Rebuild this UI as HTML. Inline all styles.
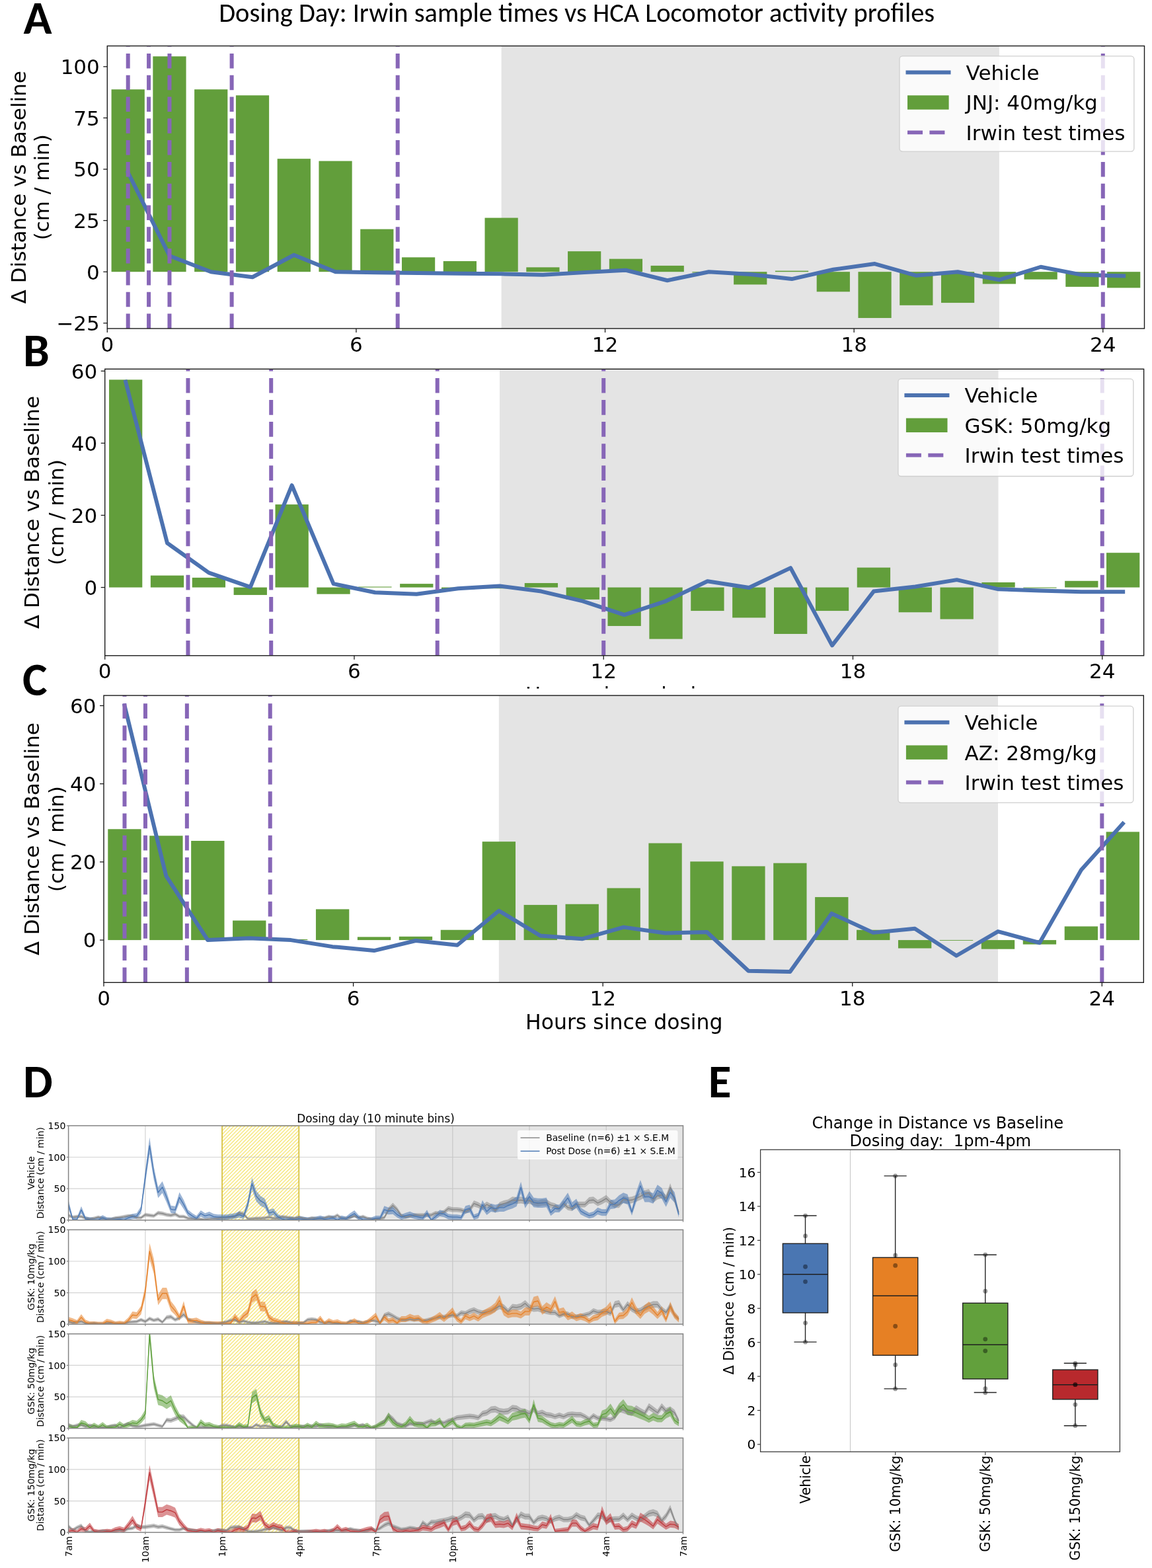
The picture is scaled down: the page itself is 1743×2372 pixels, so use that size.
<!DOCTYPE html><html><head><meta charset="utf-8"><style>
html,body{margin:0;padding:0;background:#fff;overflow:hidden;}svg{display:block;}
.t31{font-family:'DejaVu Sans', 'Liberation Sans', sans-serif;font-size:31px;fill:#000;}
.cal{font-family:Carlito, 'Liberation Sans', sans-serif;fill:#000;}
.t14{font-family:'DejaVu Sans', 'Liberation Sans', sans-serif;font-size:14.1px;fill:#000;}
.t14l{font-family:'DejaVu Sans', 'Liberation Sans', sans-serif;font-size:13.8px;fill:#000;}
.t17{font-family:'DejaVu Sans', 'Liberation Sans', sans-serif;font-size:16.8px;fill:#000;}
.t20{font-family:'DejaVu Sans', 'Liberation Sans', sans-serif;font-size:20.6px;fill:#000;}
.t24{font-family:'DejaVu Sans', 'Liberation Sans', sans-serif;font-size:24.2px;fill:#000;}
</style></head><body>
<svg width="1743" height="2372" viewBox="0 0 1743 2372">
<rect width="1743" height="2372" fill="#fff"/>
<text x="944" y="1062" class="t31" text-anchor="middle" style="font-size:31.5px">Hours since dosing</text>
<rect x="0" y="1041.6" width="1743" height="40" fill="#fff"/>
<clipPath id="ca"><rect x="162.3" y="69.5" width="1569.2" height="427.5"/></clipPath>
<g clip-path="url(#ca)">
<rect x="758.62" y="69.5" width="753.24" height="427.5" fill="#e4e4e4"/>
<rect x="168.58" y="135.25" width="50.22" height="275.95" fill="#629e3b"/>
<rect x="231.35" y="85.28" width="50.22" height="325.92" fill="#629e3b"/>
<rect x="294.12" y="135.25" width="50.22" height="275.95" fill="#629e3b"/>
<rect x="356.89" y="144.26" width="50.22" height="266.94" fill="#629e3b"/>
<rect x="419.66" y="240.17" width="50.22" height="171.03" fill="#629e3b"/>
<rect x="482.43" y="243.58" width="50.22" height="167.62" fill="#629e3b"/>
<rect x="545.2" y="346.64" width="50.22" height="64.56" fill="#629e3b"/>
<rect x="607.97" y="389.29" width="50.22" height="21.91" fill="#629e3b"/>
<rect x="670.74" y="395.06" width="50.22" height="16.14" fill="#629e3b"/>
<rect x="733.51" y="329.56" width="50.22" height="81.64" fill="#629e3b"/>
<rect x="796.28" y="404.37" width="50.22" height="6.83" fill="#629e3b"/>
<rect x="859.05" y="380.16" width="50.22" height="31.04" fill="#629e3b"/>
<rect x="921.82" y="391.64" width="50.22" height="19.56" fill="#629e3b"/>
<rect x="984.59" y="401.89" width="50.22" height="9.31" fill="#629e3b"/>
<rect x="1047.36" y="411.2" width="50.22" height="1.24" fill="#629e3b"/>
<rect x="1110.13" y="411.2" width="50.22" height="19.24" fill="#629e3b"/>
<rect x="1172.9" y="409.65" width="50.22" height="1.55" fill="#629e3b"/>
<rect x="1235.67" y="411.2" width="50.22" height="30.11" fill="#629e3b"/>
<rect x="1298.44" y="411.2" width="50.22" height="69.84" fill="#629e3b"/>
<rect x="1361.21" y="411.2" width="50.22" height="50.6" fill="#629e3b"/>
<rect x="1423.98" y="411.2" width="50.22" height="46.87" fill="#629e3b"/>
<rect x="1486.75" y="411.2" width="50.22" height="18.31" fill="#629e3b"/>
<rect x="1549.52" y="411.2" width="50.22" height="11.48" fill="#629e3b"/>
<rect x="1612.29" y="411.2" width="50.22" height="22.66" fill="#629e3b"/>
<rect x="1675.06" y="411.2" width="50.22" height="24.21" fill="#629e3b"/>
<polyline points="193.69,260.97 256.46,386.99 319.23,411.2 382,419.27 444.77,385.75 507.54,411.2 570.31,412.13 633.08,413.06 695.85,413.68 758.62,414.3 821.38,415.86 884.15,412.13 946.92,408.72 1009.7,424.24 1072.47,411.2 1135.24,414.92 1198.01,422.06 1260.78,407.79 1323.55,399.09 1386.32,416.79 1449.09,411.2 1511.86,423.31 1574.62,403.75 1637.39,415.86 1700.16,417.41" fill="none" stroke="#4c72b0" stroke-width="6" stroke-linejoin="round" stroke-linecap="square"/>
<line x1="193.69" y1="497" x2="193.69" y2="69.5" stroke="#8766b7" stroke-width="6" stroke-dasharray="22.5 10.3"/>
<line x1="225.07" y1="497" x2="225.07" y2="69.5" stroke="#8766b7" stroke-width="6" stroke-dasharray="22.5 10.3"/>
<line x1="256.46" y1="497" x2="256.46" y2="69.5" stroke="#8766b7" stroke-width="6" stroke-dasharray="22.5 10.3"/>
<line x1="350.61" y1="497" x2="350.61" y2="69.5" stroke="#8766b7" stroke-width="6" stroke-dasharray="22.5 10.3"/>
<line x1="601.69" y1="497" x2="601.69" y2="69.5" stroke="#8766b7" stroke-width="6" stroke-dasharray="22.5 10.3"/>
<line x1="1668.78" y1="497" x2="1668.78" y2="69.5" stroke="#8766b7" stroke-width="6" stroke-dasharray="22.5 10.3"/>
</g>
<rect x="1361" y="84.9" width="354.8" height="144.2" rx="4.5" fill="#fff" fill-opacity="0.8" stroke="#cfcfcf" stroke-width="1.3"/>
<line x1="1370.5" y1="109.6" x2="1438.5" y2="109.6" stroke="#4c72b0" stroke-width="6"/>
<rect x="1373" y="144.3" width="62.6" height="21.4" fill="#629e3b"/>
<line x1="1373" y1="200.3" x2="1429.4" y2="200.3" stroke="#8766b7" stroke-width="5.8" stroke-dasharray="23 10.4"/>
<text x="1461.6" y="120.9" class="t31">Vehicle</text>
<text x="1461.6" y="166.3" class="t31">JNJ: 40mg/kg</text>
<text x="1461.6" y="211.6" class="t31">Irwin test times</text>
<rect x="162.3" y="69.5" width="1569.2" height="427.5" fill="none" stroke="#1a1a1a" stroke-width="1.4"/>
<line x1="156.3" y1="488.8" x2="162.3" y2="488.8" stroke="#1a1a1a" stroke-width="1.3"/>
<text x="150.8" y="500.1" class="t31" text-anchor="end">−25</text>
<line x1="156.3" y1="411.2" x2="162.3" y2="411.2" stroke="#1a1a1a" stroke-width="1.3"/>
<text x="150.8" y="422.5" class="t31" text-anchor="end">0</text>
<line x1="156.3" y1="333.6" x2="162.3" y2="333.6" stroke="#1a1a1a" stroke-width="1.3"/>
<text x="150.8" y="344.9" class="t31" text-anchor="end">25</text>
<line x1="156.3" y1="256" x2="162.3" y2="256" stroke="#1a1a1a" stroke-width="1.3"/>
<text x="150.8" y="267.3" class="t31" text-anchor="end">50</text>
<line x1="156.3" y1="178.4" x2="162.3" y2="178.4" stroke="#1a1a1a" stroke-width="1.3"/>
<text x="150.8" y="189.7" class="t31" text-anchor="end">75</text>
<line x1="156.3" y1="100.8" x2="162.3" y2="100.8" stroke="#1a1a1a" stroke-width="1.3"/>
<text x="150.8" y="112.1" class="t31" text-anchor="end">100</text>
<line x1="162.3" y1="497" x2="162.3" y2="503" stroke="#1a1a1a" stroke-width="1.3"/>
<text x="162.3" y="531.5" class="t31" text-anchor="middle">0</text>
<line x1="538.92" y1="497" x2="538.92" y2="503" stroke="#1a1a1a" stroke-width="1.3"/>
<text x="538.92" y="531.5" class="t31" text-anchor="middle">6</text>
<line x1="915.54" y1="497" x2="915.54" y2="503" stroke="#1a1a1a" stroke-width="1.3"/>
<text x="915.54" y="531.5" class="t31" text-anchor="middle">12</text>
<line x1="1292.16" y1="497" x2="1292.16" y2="503" stroke="#1a1a1a" stroke-width="1.3"/>
<text x="1292.16" y="531.5" class="t31" text-anchor="middle">18</text>
<line x1="1668.78" y1="497" x2="1668.78" y2="503" stroke="#1a1a1a" stroke-width="1.3"/>
<text x="1668.78" y="531.5" class="t31" text-anchor="middle">24</text>
<text transform="translate(39.2,283.25) rotate(-90)" class="t31" text-anchor="middle">Δ Distance vs Baseline</text>
<text transform="translate(73.5,283.25) rotate(-90)" class="t31" text-anchor="middle">(cm / min)</text>
<clipPath id="cb"><rect x="158.7" y="558.3" width="1571.9" height="433.5"/></clipPath>
<g clip-path="url(#cb)">
<rect x="756.02" y="558.3" width="754.51" height="433.5" fill="#e4e4e4"/>
<rect x="164.99" y="574.39" width="50.3" height="314.21" fill="#629e3b"/>
<rect x="227.86" y="870.6" width="50.3" height="18" fill="#629e3b"/>
<rect x="290.74" y="873.87" width="50.3" height="14.73" fill="#629e3b"/>
<rect x="353.62" y="888.6" width="50.3" height="11.46" fill="#629e3b"/>
<rect x="416.49" y="763.13" width="50.3" height="125.47" fill="#629e3b"/>
<rect x="479.37" y="888.6" width="50.3" height="10.09" fill="#629e3b"/>
<rect x="542.24" y="887.51" width="50.3" height="1.09" fill="#629e3b"/>
<rect x="605.12" y="883.14" width="50.3" height="5.46" fill="#629e3b"/>
<rect x="668" y="888.6" width="50.3" height="2.73" fill="#629e3b"/>
<rect x="730.87" y="888.6" width="50.3" height="1.64" fill="#629e3b"/>
<rect x="793.75" y="882.05" width="50.3" height="6.55" fill="#629e3b"/>
<rect x="856.62" y="888.6" width="50.3" height="18.27" fill="#629e3b"/>
<rect x="919.5" y="888.6" width="50.3" height="58.37" fill="#629e3b"/>
<rect x="982.38" y="888.6" width="50.3" height="78.01" fill="#629e3b"/>
<rect x="1045.25" y="888.6" width="50.3" height="35.46" fill="#629e3b"/>
<rect x="1108.13" y="888.6" width="50.3" height="45.82" fill="#629e3b"/>
<rect x="1171" y="888.6" width="50.3" height="70.37" fill="#629e3b"/>
<rect x="1233.88" y="888.6" width="50.3" height="35.46" fill="#629e3b"/>
<rect x="1296.76" y="858.6" width="50.3" height="30" fill="#629e3b"/>
<rect x="1359.63" y="888.6" width="50.3" height="37.64" fill="#629e3b"/>
<rect x="1422.51" y="888.6" width="50.3" height="48" fill="#629e3b"/>
<rect x="1485.38" y="880.96" width="50.3" height="7.64" fill="#629e3b"/>
<rect x="1548.26" y="888.6" width="50.3" height="1.09" fill="#629e3b"/>
<rect x="1611.14" y="878.78" width="50.3" height="9.82" fill="#629e3b"/>
<rect x="1674.01" y="836.23" width="50.3" height="52.37" fill="#629e3b"/>
<polyline points="190.14,577.66 253.01,821.5 315.89,866.4 378.77,888.05 441.64,734.22 504.52,883.14 567.39,896.24 630.27,898.69 693.15,890.24 756.02,886.58 818.9,894.6 881.77,909.33 944.65,930.06 1007.53,909.33 1070.4,879.33 1133.28,888.98 1196.15,859.14 1259.03,976.43 1321.91,894.6 1384.78,887.51 1447.66,877.14 1510.53,891.33 1573.41,893.51 1636.29,895.15 1699.16,895.15" fill="none" stroke="#4c72b0" stroke-width="6" stroke-linejoin="round" stroke-linecap="square"/>
<line x1="284.45" y1="991.8" x2="284.45" y2="558.3" stroke="#8766b7" stroke-width="6" stroke-dasharray="22.7 10.4"/>
<line x1="410.2" y1="991.8" x2="410.2" y2="558.3" stroke="#8766b7" stroke-width="6" stroke-dasharray="22.7 10.4"/>
<line x1="661.71" y1="991.8" x2="661.71" y2="558.3" stroke="#8766b7" stroke-width="6" stroke-dasharray="22.7 10.4"/>
<line x1="913.21" y1="991.8" x2="913.21" y2="558.3" stroke="#8766b7" stroke-width="6" stroke-dasharray="22.7 10.4"/>
<line x1="1667.72" y1="991.8" x2="1667.72" y2="558.3" stroke="#8766b7" stroke-width="6" stroke-dasharray="22.7 10.4"/>
</g>
<rect x="1358.9" y="573.2" width="355.9" height="147.3" rx="4.5" fill="#fff" fill-opacity="0.8" stroke="#cfcfcf" stroke-width="1.3"/>
<line x1="1368.4" y1="597.9" x2="1436.4" y2="597.9" stroke="#4c72b0" stroke-width="6"/>
<rect x="1370.9" y="632.6" width="62.6" height="21.4" fill="#629e3b"/>
<line x1="1370.9" y1="688.6" x2="1427.3" y2="688.6" stroke="#8766b7" stroke-width="5.8" stroke-dasharray="23 10.4"/>
<text x="1459.5" y="609.2" class="t31">Vehicle</text>
<text x="1459.5" y="654.6" class="t31">GSK: 50mg/kg</text>
<text x="1459.5" y="699.9" class="t31">Irwin test times</text>
<rect x="158.7" y="558.3" width="1571.9" height="433.5" fill="none" stroke="#1a1a1a" stroke-width="1.4"/>
<line x1="152.7" y1="888.6" x2="158.7" y2="888.6" stroke="#1a1a1a" stroke-width="1.3"/>
<text x="147.2" y="899.9" class="t31" text-anchor="end">0</text>
<line x1="152.7" y1="779.5" x2="158.7" y2="779.5" stroke="#1a1a1a" stroke-width="1.3"/>
<text x="147.2" y="790.8" class="t31" text-anchor="end">20</text>
<line x1="152.7" y1="670.4" x2="158.7" y2="670.4" stroke="#1a1a1a" stroke-width="1.3"/>
<text x="147.2" y="681.7" class="t31" text-anchor="end">40</text>
<line x1="152.7" y1="561.3" x2="158.7" y2="561.3" stroke="#1a1a1a" stroke-width="1.3"/>
<text x="147.2" y="572.6" class="t31" text-anchor="end">60</text>
<line x1="158.7" y1="991.8" x2="158.7" y2="997.8" stroke="#1a1a1a" stroke-width="1.3"/>
<text x="158.7" y="1026.3" class="t31" text-anchor="middle">0</text>
<line x1="535.96" y1="991.8" x2="535.96" y2="997.8" stroke="#1a1a1a" stroke-width="1.3"/>
<text x="535.96" y="1026.3" class="t31" text-anchor="middle">6</text>
<line x1="913.21" y1="991.8" x2="913.21" y2="997.8" stroke="#1a1a1a" stroke-width="1.3"/>
<text x="913.21" y="1026.3" class="t31" text-anchor="middle">12</text>
<line x1="1290.47" y1="991.8" x2="1290.47" y2="997.8" stroke="#1a1a1a" stroke-width="1.3"/>
<text x="1290.47" y="1026.3" class="t31" text-anchor="middle">18</text>
<line x1="1667.72" y1="991.8" x2="1667.72" y2="997.8" stroke="#1a1a1a" stroke-width="1.3"/>
<text x="1667.72" y="1026.3" class="t31" text-anchor="middle">24</text>
<text transform="translate(59.4,775.05) rotate(-90)" class="t31" text-anchor="middle">Δ Distance vs Baseline</text>
<text transform="translate(95.7,775.05) rotate(-90)" class="t31" text-anchor="middle">(cm / min)</text>
<clipPath id="cc"><rect x="157" y="1052.1" width="1573.3" height="434.2"/></clipPath>
<g clip-path="url(#cc)">
<rect x="754.84" y="1052.1" width="755.16" height="434.2" fill="#e4e4e4"/>
<rect x="163.29" y="1254.26" width="50.34" height="167.84" fill="#629e3b"/>
<rect x="226.22" y="1264.3" width="50.34" height="157.8" fill="#629e3b"/>
<rect x="289.15" y="1271.99" width="50.34" height="150.11" fill="#629e3b"/>
<rect x="352.08" y="1392.55" width="50.34" height="29.55" fill="#629e3b"/>
<rect x="415.01" y="1420.92" width="50.34" height="1.18" fill="#629e3b"/>
<rect x="477.94" y="1375.41" width="50.34" height="46.69" fill="#629e3b"/>
<rect x="540.87" y="1417.37" width="50.34" height="4.73" fill="#629e3b"/>
<rect x="603.8" y="1416.78" width="50.34" height="5.32" fill="#629e3b"/>
<rect x="666.73" y="1406.73" width="50.34" height="15.37" fill="#629e3b"/>
<rect x="729.66" y="1273.17" width="50.34" height="148.93" fill="#629e3b"/>
<rect x="792.59" y="1368.91" width="50.34" height="53.19" fill="#629e3b"/>
<rect x="855.52" y="1367.73" width="50.34" height="54.37" fill="#629e3b"/>
<rect x="918.45" y="1343.5" width="50.34" height="78.6" fill="#629e3b"/>
<rect x="981.38" y="1275.53" width="50.34" height="146.57" fill="#629e3b"/>
<rect x="1044.31" y="1303.31" width="50.34" height="118.79" fill="#629e3b"/>
<rect x="1107.24" y="1310.4" width="50.34" height="111.7" fill="#629e3b"/>
<rect x="1170.17" y="1305.67" width="50.34" height="116.43" fill="#629e3b"/>
<rect x="1233.1" y="1357.09" width="50.34" height="65.01" fill="#629e3b"/>
<rect x="1296.03" y="1406.73" width="50.34" height="15.37" fill="#629e3b"/>
<rect x="1358.96" y="1422.1" width="50.34" height="12.41" fill="#629e3b"/>
<rect x="1421.89" y="1422.1" width="50.34" height="0.89" fill="#629e3b"/>
<rect x="1484.82" y="1422.1" width="50.34" height="13.59" fill="#629e3b"/>
<rect x="1547.75" y="1422.1" width="50.34" height="6.5" fill="#629e3b"/>
<rect x="1610.68" y="1401.41" width="50.34" height="20.68" fill="#629e3b"/>
<rect x="1673.61" y="1258.39" width="50.34" height="163.71" fill="#629e3b"/>
<polyline points="188.47,1067.5 251.39,1325.18 314.32,1422.1 377.25,1419.14 440.19,1422.1 503.12,1432.15 566.05,1438.06 628.98,1422.99 691.9,1429.78 754.84,1377.77 817.76,1415.6 880.7,1420.33 943.62,1402.6 1006.55,1411.46 1069.49,1409.98 1132.41,1468.79 1195.35,1469.97 1258.28,1381.91 1321.2,1410.87 1384.13,1404.67 1447.07,1445.74 1509.99,1409.1 1572.92,1426.24 1635.86,1316.02 1698.79,1245.98" fill="none" stroke="#4c72b0" stroke-width="6" stroke-linejoin="round" stroke-linecap="square"/>
<line x1="188.47" y1="1486.3" x2="188.47" y2="1052.1" stroke="#8766b7" stroke-width="6" stroke-dasharray="22.8 10.48"/>
<line x1="219.93" y1="1486.3" x2="219.93" y2="1052.1" stroke="#8766b7" stroke-width="6" stroke-dasharray="22.8 10.48"/>
<line x1="282.86" y1="1486.3" x2="282.86" y2="1052.1" stroke="#8766b7" stroke-width="6" stroke-dasharray="22.8 10.48"/>
<line x1="408.72" y1="1486.3" x2="408.72" y2="1052.1" stroke="#8766b7" stroke-width="6" stroke-dasharray="22.8 10.48"/>
<line x1="1667.32" y1="1486.3" x2="1667.32" y2="1052.1" stroke="#8766b7" stroke-width="6" stroke-dasharray="22.8 10.48"/>
</g>
<rect x="1358.9" y="1068.1" width="355.9" height="146.2" rx="4.5" fill="#fff" fill-opacity="0.8" stroke="#cfcfcf" stroke-width="1.3"/>
<line x1="1368.4" y1="1092.8" x2="1436.4" y2="1092.8" stroke="#4c72b0" stroke-width="6"/>
<rect x="1370.9" y="1127.5" width="62.6" height="21.4" fill="#629e3b"/>
<line x1="1370.9" y1="1183.5" x2="1427.3" y2="1183.5" stroke="#8766b7" stroke-width="5.8" stroke-dasharray="23 10.4"/>
<text x="1459.5" y="1104.1" class="t31">Vehicle</text>
<text x="1459.5" y="1149.5" class="t31">AZ: 28mg/kg</text>
<text x="1459.5" y="1194.8" class="t31">Irwin test times</text>
<rect x="157" y="1052.1" width="1573.3" height="434.2" fill="none" stroke="#1a1a1a" stroke-width="1.4"/>
<line x1="151" y1="1422.1" x2="157" y2="1422.1" stroke="#1a1a1a" stroke-width="1.3"/>
<text x="145.5" y="1433.4" class="t31" text-anchor="end">0</text>
<line x1="151" y1="1303.9" x2="157" y2="1303.9" stroke="#1a1a1a" stroke-width="1.3"/>
<text x="145.5" y="1315.2" class="t31" text-anchor="end">20</text>
<line x1="151" y1="1185.7" x2="157" y2="1185.7" stroke="#1a1a1a" stroke-width="1.3"/>
<text x="145.5" y="1197" class="t31" text-anchor="end">40</text>
<line x1="151" y1="1067.5" x2="157" y2="1067.5" stroke="#1a1a1a" stroke-width="1.3"/>
<text x="145.5" y="1078.8" class="t31" text-anchor="end">60</text>
<line x1="157" y1="1486.3" x2="157" y2="1492.3" stroke="#1a1a1a" stroke-width="1.3"/>
<text x="157" y="1520.8" class="t31" text-anchor="middle">0</text>
<line x1="534.58" y1="1486.3" x2="534.58" y2="1492.3" stroke="#1a1a1a" stroke-width="1.3"/>
<text x="534.58" y="1520.8" class="t31" text-anchor="middle">6</text>
<line x1="912.16" y1="1486.3" x2="912.16" y2="1492.3" stroke="#1a1a1a" stroke-width="1.3"/>
<text x="912.16" y="1520.8" class="t31" text-anchor="middle">12</text>
<line x1="1289.74" y1="1486.3" x2="1289.74" y2="1492.3" stroke="#1a1a1a" stroke-width="1.3"/>
<text x="1289.74" y="1520.8" class="t31" text-anchor="middle">18</text>
<line x1="1667.32" y1="1486.3" x2="1667.32" y2="1492.3" stroke="#1a1a1a" stroke-width="1.3"/>
<text x="1667.32" y="1520.8" class="t31" text-anchor="middle">24</text>
<text transform="translate(59.4,1269.2) rotate(-90)" class="t31" text-anchor="middle">Δ Distance vs Baseline</text>
<text transform="translate(95.7,1269.2) rotate(-90)" class="t31" text-anchor="middle">(cm / min)</text>
<text x="944.3" y="1557.4" class="t31" text-anchor="middle" style="font-size:31.5px">Hours since dosing</text>
<text x="331.2" y="32.7" class="cal" font-size="41px" textLength="1083" lengthAdjust="spacingAndGlyphs">Dosing Day: Irwin sample times vs HCA Locomotor activity profiles</text>
<text x="35.5" y="50.8" class="cal" font-weight="bold" font-size="71px">A</text>
<text x="35" y="554" class="cal" font-weight="bold" font-size="71px">B</text>
<text x="34" y="1051.6" class="cal" font-weight="bold" font-size="71px">C</text>
<pattern id="hatch" patternUnits="userSpaceOnUse" width="5.5" height="5.5" patternTransform="translate(336.1,0)"><path d="M-1,1 L1,-1 M0,5.5 L5.5,0 M4.5,6.5 L6.5,4.5" stroke="#f3dc45" stroke-width="1.1"/></pattern>
<clipPath id="u0"><rect x="103.6" y="1702.9" width="929.9" height="142.85"/></clipPath>
<g clip-path="url(#u0)">
<rect x="568.55" y="1702.9" width="464.95" height="142.85" fill="#e4e4e4"/>
<rect x="336.07" y="1702.9" width="116.24" height="142.85" fill="url(#hatch)"/>
<path d="M103.6,1798.13H1033.5M103.6,1750.52H1033.5M219.84,1702.9V1845.75M336.07,1702.9V1845.75M452.31,1702.9V1845.75M568.55,1702.9V1845.75M684.79,1702.9V1845.75M801.02,1702.9V1845.75M917.26,1702.9V1845.75" stroke="#b0b0b0" stroke-opacity="0.55" stroke-width="1.2" fill="none"/>
<rect x="336.07" y="1702.9" width="116.24" height="142.85" fill="none" stroke="#d9c33e" stroke-width="1.7"/>
<path d="M103.6,1835.69 L110.06,1838.63 L116.52,1837.68 L122.97,1837.68 L129.43,1840.62 L135.89,1841.66 L142.35,1840.62 L148.8,1838.63 L155.26,1840.62 L161.72,1842.08 L168.18,1841.66 L174.63,1840.09 L181.09,1839.26 L187.55,1838.1 L194.01,1836.64 L200.46,1836.64 L206.92,1839.67 L213.38,1839.67 L219.84,1834.65 L226.3,1835.69 L232.75,1836.64 L239.21,1831.71 L245.67,1832.66 L252.13,1834.65 L258.58,1835.69 L265.04,1833.7 L271.5,1837.68 L277.96,1837.68 L284.41,1840.62 L290.87,1841.25 L297.33,1841.66 L303.79,1842.08 L310.24,1842.61 L316.7,1841.66 L323.16,1841.25 L329.62,1840.62 L336.07,1839.67 L342.53,1839.26 L348.99,1838.63 L355.45,1837.68 L361.91,1831.71 L368.36,1833.28 L374.82,1841.25 L381.28,1841.25 L387.74,1840.62 L394.19,1840.62 L400.65,1840.09 L407.11,1838.63 L413.57,1840.62 L420.02,1840.62 L426.48,1837.68 L432.94,1838.63 L439.4,1840.09 L445.85,1840.62 L452.31,1838.63 L458.77,1840.62 L465.23,1841.66 L471.69,1840.09 L478.14,1840.62 L484.6,1840.62 L491.06,1840.09 L497.52,1837.68 L503.97,1839.26 L510.43,1835.69 L516.89,1840.62 L523.35,1840.62 L529.8,1839.26 L536.26,1836.64 L542.72,1839.67 L549.18,1837.68 L555.63,1840.62 L562.09,1841.66 L568.55,1841.98 L575.01,1841.14 L581.47,1839.46 L587.92,1826.16 L594.38,1819.46 L600.84,1826.16 L607.3,1836.11 L613.75,1838.63 L620.21,1836.95 L626.67,1835.27 L633.13,1835.27 L639.58,1835.27 L646.04,1835.27 L652.5,1835.27 L658.96,1831.92 L665.41,1832.76 L671.87,1830.25 L678.33,1824.48 L684.79,1826.16 L691.25,1826.16 L697.7,1826.89 L704.16,1829.41 L710.62,1826.16 L717.08,1816.1 L723.53,1818.62 L729.99,1822.81 L736.45,1817.78 L742.91,1821.13 L749.36,1827.73 L755.82,1818.62 L762.28,1816.1 L768.74,1814.43 L775.19,1810.31 L781.65,1811.12 L788.11,1810.31 L794.57,1811.93 L801.02,1810.92 L807.48,1814.32 L813.94,1816 L820.4,1814.32 L826.86,1814.32 L833.31,1818.51 L839.77,1820.19 L846.23,1824.38 L852.69,1816 L859.14,1822.7 L865.6,1824.38 L872.06,1817.68 L878.52,1817.68 L884.97,1817.68 L891.43,1810.92 L897.89,1810.21 L904.35,1815.16 L910.8,1811.82 L917.26,1807.69 L923.72,1814.32 L930.18,1818.51 L936.64,1818.51 L943.09,1809.3 L949.55,1810.92 L956.01,1810.21 L962.47,1807.69 L968.92,1804.45 L975.38,1800.42 L981.84,1798.8 L988.3,1809.3 L994.75,1803.65 L1001.21,1802.03 L1007.67,1807.69 L1014.13,1789.92 L1020.58,1809.3 L1027.04,1831.08 L1027.04,1837.56 L1020.58,1819.54 L1014.13,1802.35 L1007.67,1818.1 L1001.21,1813.09 L994.75,1814.52 L988.3,1819.54 L981.84,1810.23 L975.38,1811.66 L968.92,1815.24 L962.47,1818.1 L956.01,1820.34 L949.55,1820.97 L943.09,1819.54 L936.64,1827.27 L930.18,1827.27 L923.72,1823.85 L917.26,1818.1 L910.8,1821.77 L904.35,1824.53 L897.89,1820.34 L891.43,1820.97 L884.97,1826.59 L878.52,1826.59 L872.06,1826.59 L865.6,1832.07 L859.14,1830.7 L852.69,1825.22 L846.23,1832.07 L839.77,1828.65 L833.31,1827.27 L826.86,1823.85 L820.4,1823.85 L813.94,1825.22 L807.48,1823.85 L801.02,1820.97 L794.57,1821.86 L788.11,1820.43 L781.65,1821.15 L775.19,1820.43 L768.74,1823.93 L762.28,1825.3 L755.82,1827.36 L749.36,1834.82 L742.91,1829.42 L736.45,1826.67 L729.99,1830.79 L723.53,1827.36 L717.08,1825.3 L710.62,1833.53 L704.16,1836.19 L697.7,1834.13 L691.25,1833.53 L684.79,1833.53 L678.33,1832.16 L671.87,1836.87 L665.41,1838.93 L658.96,1838.25 L652.5,1840.99 L646.04,1840.99 L639.58,1840.99 L633.13,1840.99 L626.67,1840.99 L620.21,1842.36 L613.75,1843.73 L607.3,1841.67 L600.84,1833.53 L594.38,1828.05 L587.92,1833.53 L581.47,1844.42 L575.01,1845.75 L568.55,1845.75 L562.09,1845.75 L555.63,1845.36 L549.18,1842.96 L542.72,1844.59 L536.26,1842.1 L529.8,1844.25 L523.35,1845.36 L516.89,1845.36 L510.43,1841.33 L503.97,1844.25 L497.52,1842.96 L491.06,1844.93 L484.6,1845.36 L478.14,1845.36 L471.69,1844.93 L465.23,1845.75 L458.77,1845.36 L452.31,1843.73 L445.85,1845.36 L439.4,1844.93 L432.94,1843.73 L426.48,1842.96 L420.02,1845.36 L413.57,1845.36 L407.11,1843.73 L400.65,1844.93 L394.19,1845.36 L387.74,1845.36 L381.28,1845.75 L374.82,1845.75 L368.36,1839.36 L361.91,1838.07 L355.45,1842.96 L348.99,1843.73 L342.53,1844.25 L336.07,1844.59 L329.62,1845.36 L323.16,1845.75 L316.7,1845.75 L310.24,1845.75 L303.79,1845.75 L297.33,1845.75 L290.87,1845.75 L284.41,1845.36 L277.96,1842.96 L271.5,1842.96 L265.04,1839.7 L258.58,1841.33 L252.13,1840.47 L245.67,1838.85 L239.21,1838.07 L232.75,1842.1 L226.3,1841.33 L219.84,1840.47 L213.38,1844.59 L206.92,1844.59 L200.46,1842.1 L194.01,1842.1 L187.55,1843.3 L181.09,1844.25 L174.63,1844.93 L168.18,1845.75 L161.72,1845.75 L155.26,1845.36 L148.8,1843.73 L142.35,1845.36 L135.89,1845.75 L129.43,1845.36 L122.97,1842.96 L116.52,1842.96 L110.06,1843.73 L103.6,1841.33Z" fill="#8c8c8c" fill-opacity="0.55"/>
<path d="M103.6,1815.35 L110.06,1841.42 L116.52,1841.42 L122.97,1824.77 L129.43,1840.32 L135.89,1841.42 L142.35,1842.07 L148.8,1842.07 L155.26,1838.35 L161.72,1841.42 L168.18,1842.07 L174.63,1841.42 L181.09,1840.87 L187.55,1842.07 L194.01,1838.79 L200.46,1836.27 L206.92,1835.17 L213.38,1824.77 L219.84,1770.69 L226.3,1720.62 L232.75,1764.94 L239.21,1795.73 L245.67,1787.04 L252.13,1803.4 L258.58,1823.67 L265.04,1824.77 L271.5,1803.4 L277.96,1815.35 L284.41,1830.03 L290.87,1835.17 L297.33,1839.34 L303.79,1831.01 L310.24,1835.17 L316.7,1833.09 L323.16,1836.27 L329.62,1837.26 L336.07,1837.26 L342.53,1837.26 L348.99,1836.27 L355.45,1835.17 L361.91,1833.09 L368.36,1836.27 L374.82,1815.35 L381.28,1781.29 L387.74,1801.48 L394.19,1809.15 L400.65,1813.27 L407.11,1830.03 L413.57,1827.95 L420.02,1836.27 L426.48,1840.43 L432.94,1842.07 L439.4,1840.43 L445.85,1841.42 L452.31,1839.99 L458.77,1840.87 L465.23,1841.42 L471.69,1841.42 L478.14,1840.43 L484.6,1838.79 L491.06,1840.87 L497.52,1839.99 L503.97,1838.79 L510.43,1842.07 L516.89,1838.79 L523.35,1840.43 L529.8,1835.17 L536.26,1831.01 L542.72,1838.35 L549.18,1841.42 L555.63,1842.07 L562.09,1841.42 L568.55,1839.01 L575.01,1839.01 L581.47,1824.22 L587.92,1826.74 L594.38,1825.87 L600.84,1832.87 L607.3,1837.26 L613.75,1834.63 L620.21,1832.87 L626.67,1835.5 L633.13,1837.26 L639.58,1839.01 L646.04,1830.25 L652.5,1842.51 L658.96,1836.38 L665.41,1830.25 L671.87,1832 L678.33,1836.38 L684.79,1837.26 L691.25,1837.26 L697.7,1838.13 L704.16,1824.22 L710.62,1822.47 L717.08,1837.26 L723.53,1834.63 L729.99,1815.46 L736.45,1827.62 L742.91,1820.72 L749.36,1822.47 L755.82,1820.72 L762.28,1820.72 L768.74,1817.21 L775.19,1814.58 L781.65,1810.2 L788.11,1787.65 L794.57,1813.71 L801.02,1801.88 L807.48,1811.85 L813.94,1812.72 L820.4,1812.72 L826.86,1811.85 L833.31,1829.37 L839.77,1822.36 L846.23,1822.36 L852.69,1813.6 L859.14,1804.31 L865.6,1818.86 L872.06,1813.6 L878.52,1826.74 L884.97,1831.12 L891.43,1834.63 L897.89,1832.87 L904.35,1826.74 L910.8,1829.37 L917.26,1829.37 L923.72,1815.35 L930.18,1814.48 L936.64,1808.34 L943.09,1804.31 L949.55,1806.73 L956.01,1828.49 L962.47,1803.5 L968.92,1784.92 L975.38,1802.69 L981.84,1802.69 L988.3,1805.11 L994.75,1792.19 L1001.21,1797.04 L1007.67,1810.97 L1014.13,1795.42 L1020.58,1803.5 L1027.04,1832.87 L1027.04,1841.86 L1020.58,1819.24 L1014.13,1812.08 L1007.67,1825.67 L1001.21,1813.51 L994.75,1809.22 L988.3,1820.68 L981.84,1818.53 L975.38,1818.53 L968.92,1802.77 L962.47,1819.24 L956.01,1838.63 L949.55,1822.11 L943.09,1819.96 L936.64,1823.54 L930.18,1828.27 L923.72,1828.91 L917.26,1839.27 L910.8,1839.27 L904.35,1837.33 L897.89,1841.86 L891.43,1843.16 L884.97,1840.57 L878.52,1837.33 L872.06,1827.62 L865.6,1831.5 L859.14,1819.96 L852.69,1827.62 L846.23,1834.09 L839.77,1834.09 L833.31,1839.27 L826.86,1826.32 L820.4,1826.97 L813.94,1826.97 L807.48,1826.32 L801.02,1817.81 L794.57,1827.7 L788.11,1805.19 L781.65,1825.11 L775.19,1828.35 L768.74,1830.29 L762.28,1832.88 L755.82,1832.88 L749.36,1834.17 L742.91,1832.88 L736.45,1837.98 L729.99,1828.99 L723.53,1843.16 L717.08,1845.1 L710.62,1834.17 L704.16,1835.47 L697.7,1845.75 L691.25,1845.1 L684.79,1845.1 L678.33,1844.45 L671.87,1841.22 L665.41,1839.92 L658.96,1844.45 L652.5,1845.75 L646.04,1839.92 L639.58,1845.75 L633.13,1845.1 L626.67,1843.81 L620.21,1841.86 L613.75,1843.16 L607.3,1845.1 L600.84,1841.86 L594.38,1836.68 L587.92,1837.33 L581.47,1835.47 L575.01,1845.75 L568.55,1845.75 L562.09,1845.75 L555.63,1845.75 L549.18,1845.75 L542.72,1845.75 L536.26,1840.49 L529.8,1843.56 L523.35,1845.75 L516.89,1845.75 L510.43,1845.75 L503.97,1845.75 L497.52,1845.75 L491.06,1845.75 L484.6,1845.75 L478.14,1845.75 L471.69,1845.75 L465.23,1845.75 L458.77,1845.75 L452.31,1845.75 L445.85,1845.75 L439.4,1845.75 L432.94,1845.75 L426.48,1845.75 L420.02,1844.37 L413.57,1838.22 L407.11,1839.76 L400.65,1827.37 L394.19,1824.26 L387.74,1817.45 L381.28,1799.55 L374.82,1828.91 L368.36,1844.37 L361.91,1842.03 L355.45,1843.56 L348.99,1844.37 L342.53,1845.1 L336.07,1845.1 L329.62,1845.1 L323.16,1844.37 L316.7,1842.03 L310.24,1843.56 L303.79,1840.49 L297.33,1845.75 L290.87,1843.56 L284.41,1839.76 L277.96,1828.91 L271.5,1819.15 L265.04,1835.87 L258.58,1835.06 L252.13,1819.15 L245.67,1804.65 L239.21,1812.35 L232.75,1785.05 L226.3,1745.75 L219.84,1790.15 L213.38,1835.87 L206.92,1843.56 L200.46,1844.37 L194.01,1845.75 L187.55,1845.75 L181.09,1845.75 L174.63,1845.75 L168.18,1845.75 L161.72,1845.75 L155.26,1845.75 L148.8,1845.75 L142.35,1845.75 L135.89,1845.75 L129.43,1845.75 L122.97,1835.87 L116.52,1845.75 L110.06,1845.75 L103.6,1828.91Z" fill="#4a78b4" fill-opacity="0.55"/>
<polyline points="103.6,1838.51 110.06,1841.18 116.52,1840.32 122.97,1840.32 129.43,1842.99 135.89,1843.94 142.35,1842.99 148.8,1841.18 155.26,1842.99 161.72,1844.32 168.18,1843.94 174.63,1842.51 181.09,1841.75 187.55,1840.7 194.01,1839.37 200.46,1839.37 206.92,1842.13 213.38,1842.13 219.84,1837.56 226.3,1838.51 232.75,1839.37 239.21,1834.89 245.67,1835.75 252.13,1837.56 258.58,1838.51 265.04,1836.7 271.5,1840.32 277.96,1840.32 284.41,1842.99 290.87,1843.56 297.33,1843.94 303.79,1844.32 310.24,1844.8 316.7,1843.94 323.16,1843.56 329.62,1842.99 336.07,1842.13 342.53,1841.75 348.99,1841.18 355.45,1840.32 361.91,1834.89 368.36,1836.32 374.82,1843.56 381.28,1843.56 387.74,1842.99 394.19,1842.99 400.65,1842.51 407.11,1841.18 413.57,1842.99 420.02,1842.99 426.48,1840.32 432.94,1841.18 439.4,1842.51 445.85,1842.99 452.31,1841.18 458.77,1842.99 465.23,1843.94 471.69,1842.51 478.14,1842.99 484.6,1842.99 491.06,1842.51 497.52,1840.32 503.97,1841.75 510.43,1838.51 516.89,1842.99 523.35,1842.99 529.8,1841.75 536.26,1839.37 542.72,1842.13 549.18,1840.32 555.63,1842.99 562.09,1843.94 568.55,1844.23 575.01,1843.46 581.47,1841.94 587.92,1829.85 594.38,1823.75 600.84,1829.85 607.3,1838.89 613.75,1841.18 620.21,1839.66 626.67,1838.13 633.13,1838.13 639.58,1838.13 646.04,1838.13 652.5,1838.13 658.96,1835.08 665.41,1835.85 671.87,1833.56 678.33,1828.32 684.79,1829.85 691.25,1829.85 697.7,1830.51 704.16,1832.8 710.62,1829.85 717.08,1820.7 723.53,1822.99 729.99,1826.8 736.45,1822.23 742.91,1825.27 749.36,1831.27 755.82,1822.99 762.28,1820.7 768.74,1819.18 775.19,1815.37 781.65,1816.13 788.11,1815.37 794.57,1816.89 801.02,1815.94 807.48,1819.08 813.94,1820.61 820.4,1819.08 826.86,1819.08 833.31,1822.89 839.77,1824.42 846.23,1828.23 852.69,1820.61 859.14,1826.7 865.6,1828.23 872.06,1822.13 878.52,1822.13 884.97,1822.13 891.43,1815.94 897.89,1815.28 904.35,1819.85 910.8,1816.8 917.26,1812.89 923.72,1819.08 930.18,1822.89 936.64,1822.89 943.09,1814.42 949.55,1815.94 956.01,1815.28 962.47,1812.89 968.92,1809.85 975.38,1806.04 981.84,1804.51 988.3,1814.42 994.75,1809.09 1001.21,1807.56 1007.67,1812.89 1014.13,1796.13 1020.58,1814.42 1027.04,1834.32" fill="none" stroke="#848484" stroke-width="1.35" stroke-linejoin="round"/>
<polyline points="103.6,1822.13 110.06,1844.8 116.52,1844.8 122.97,1830.32 129.43,1843.85 135.89,1844.8 142.35,1845.37 148.8,1845.37 155.26,1842.13 161.72,1844.8 168.18,1845.37 174.63,1844.8 181.09,1844.32 187.55,1845.37 194.01,1842.51 200.46,1840.32 206.92,1839.37 213.38,1830.32 219.84,1780.42 226.3,1733.18 232.75,1774.99 239.21,1804.04 245.67,1795.85 252.13,1811.28 258.58,1829.37 265.04,1830.32 271.5,1811.28 277.96,1822.13 284.41,1834.89 290.87,1839.37 297.33,1842.99 303.79,1835.75 310.24,1839.37 316.7,1837.56 323.16,1840.32 329.62,1841.18 336.07,1841.18 342.53,1841.18 348.99,1840.32 355.45,1839.37 361.91,1837.56 368.36,1840.32 374.82,1822.13 381.28,1790.42 387.74,1809.47 394.19,1816.7 400.65,1820.32 407.11,1834.89 413.57,1833.08 420.02,1840.32 426.48,1843.94 432.94,1845.37 439.4,1843.94 445.85,1844.8 452.31,1843.56 458.77,1844.32 465.23,1844.8 471.69,1844.8 478.14,1843.94 484.6,1842.51 491.06,1844.32 497.52,1843.56 503.97,1842.51 510.43,1845.37 516.89,1842.51 523.35,1843.94 529.8,1839.37 536.26,1835.75 542.72,1842.13 549.18,1844.8 555.63,1845.37 562.09,1844.8 568.55,1842.7 575.01,1842.7 581.47,1829.85 587.92,1832.04 594.38,1831.27 600.84,1837.37 607.3,1841.18 613.75,1838.89 620.21,1837.37 626.67,1839.66 633.13,1841.18 639.58,1842.7 646.04,1835.08 652.5,1845.75 658.96,1840.42 665.41,1835.08 671.87,1836.61 678.33,1840.42 684.79,1841.18 691.25,1841.18 697.7,1841.94 704.16,1829.85 710.62,1828.32 717.08,1841.18 723.53,1838.89 729.99,1822.23 736.45,1832.8 742.91,1826.8 749.36,1828.32 755.82,1826.8 762.28,1826.8 768.74,1823.75 775.19,1821.47 781.65,1817.66 788.11,1796.42 794.57,1820.7 801.02,1809.85 807.48,1819.08 813.94,1819.85 820.4,1819.85 826.86,1819.08 833.31,1834.32 839.77,1828.23 846.23,1828.23 852.69,1820.61 859.14,1812.13 865.6,1825.18 872.06,1820.61 878.52,1832.04 884.97,1835.85 891.43,1838.89 897.89,1837.37 904.35,1832.04 910.8,1834.32 917.26,1834.32 923.72,1822.13 930.18,1821.37 936.64,1815.94 943.09,1812.13 949.55,1814.42 956.01,1833.56 962.47,1811.37 968.92,1793.85 975.38,1810.61 981.84,1810.61 988.3,1812.89 994.75,1800.7 1001.21,1805.28 1007.67,1818.32 1014.13,1803.75 1020.58,1811.37 1027.04,1837.37" fill="none" stroke="#4a78b4" stroke-width="1.35" stroke-linejoin="round"/>
</g>
<rect x="103.6" y="1702.9" width="929.9" height="142.85" fill="none" stroke="#858585" stroke-width="1.5"/>
<line x1="100.8" y1="1845.75" x2="103.6" y2="1845.75" stroke="#858585" stroke-width="1.2"/>
<text x="99.4" y="1850.85" class="t14" text-anchor="end">0</text>
<line x1="100.8" y1="1798.13" x2="103.6" y2="1798.13" stroke="#858585" stroke-width="1.2"/>
<text x="99.4" y="1803.23" class="t14" text-anchor="end">50</text>
<line x1="100.8" y1="1750.52" x2="103.6" y2="1750.52" stroke="#858585" stroke-width="1.2"/>
<text x="99.4" y="1755.62" class="t14" text-anchor="end">100</text>
<line x1="100.8" y1="1702.9" x2="103.6" y2="1702.9" stroke="#858585" stroke-width="1.2"/>
<text x="99.4" y="1708" class="t14" text-anchor="end">150</text>
<line x1="103.6" y1="1845.75" x2="103.6" y2="1848.55" stroke="#858585" stroke-width="1.2"/>
<line x1="219.84" y1="1845.75" x2="219.84" y2="1848.55" stroke="#858585" stroke-width="1.2"/>
<line x1="336.07" y1="1845.75" x2="336.07" y2="1848.55" stroke="#858585" stroke-width="1.2"/>
<line x1="452.31" y1="1845.75" x2="452.31" y2="1848.55" stroke="#858585" stroke-width="1.2"/>
<line x1="568.55" y1="1845.75" x2="568.55" y2="1848.55" stroke="#858585" stroke-width="1.2"/>
<line x1="684.79" y1="1845.75" x2="684.79" y2="1848.55" stroke="#858585" stroke-width="1.2"/>
<line x1="801.02" y1="1845.75" x2="801.02" y2="1848.55" stroke="#858585" stroke-width="1.2"/>
<line x1="917.26" y1="1845.75" x2="917.26" y2="1848.55" stroke="#858585" stroke-width="1.2"/>
<line x1="1033.5" y1="1845.75" x2="1033.5" y2="1848.55" stroke="#858585" stroke-width="1.2"/>
<text transform="translate(51.6,1774.33) rotate(-90)" class="t14" text-anchor="middle">Vehicle</text>
<text transform="translate(66.4,1774.33) rotate(-90)" class="t14" text-anchor="middle">Distance (cm / min)</text>
<clipPath id="u1"><rect x="103.6" y="1860.37" width="929.9" height="142.85"/></clipPath>
<g clip-path="url(#u1)">
<rect x="568.55" y="1860.37" width="464.95" height="142.85" fill="#e4e4e4"/>
<rect x="336.07" y="1860.37" width="116.24" height="142.85" fill="url(#hatch)"/>
<path d="M103.6,1955.6H1033.5M103.6,1907.99H1033.5M219.84,1860.37V2003.22M336.07,1860.37V2003.22M452.31,1860.37V2003.22M568.55,1860.37V2003.22M684.79,1860.37V2003.22M801.02,1860.37V2003.22M917.26,1860.37V2003.22" stroke="#b0b0b0" stroke-opacity="0.55" stroke-width="1.2" fill="none"/>
<rect x="336.07" y="1860.37" width="116.24" height="142.85" fill="none" stroke="#d9c33e" stroke-width="1.7"/>
<path d="M103.6,1996.73 L110.06,1998.72 L116.52,1997.77 L122.97,1996.73 L129.43,1999.76 L135.89,1999.76 L142.35,1999.13 L148.8,2000.29 L155.26,2000.29 L161.72,1999.13 L168.18,1998.72 L174.63,1999.76 L181.09,1999.76 L187.55,1999.76 L194.01,1997.77 L200.46,1997.14 L206.92,1996.73 L213.38,1993.69 L219.84,1996.73 L226.3,1991.7 L232.75,1994.73 L239.21,1992.74 L245.67,1997.77 L252.13,1989.71 L258.58,1988.76 L265.04,1993.69 L271.5,1990.75 L277.96,1984.78 L284.41,1992.74 L290.87,1995.68 L297.33,1997.77 L303.79,1998.3 L310.24,1998.72 L316.7,1998.72 L323.16,1999.13 L329.62,1999.76 L336.07,1998.72 L342.53,1997.14 L348.99,1994.73 L355.45,1993.69 L361.91,1997.77 L368.36,1995.68 L374.82,1997.77 L381.28,1998.72 L387.74,1998.72 L394.19,1997.77 L400.65,1996.73 L407.11,1998.72 L413.57,1999.13 L420.02,1999.13 L426.48,1997.77 L432.94,1996.73 L439.4,1998.3 L445.85,1999.13 L452.31,1998.72 L458.77,1998.72 L465.23,1993.69 L471.69,1992.74 L478.14,1993.69 L484.6,1997.77 L491.06,1998.72 L497.52,1997.77 L503.97,1998.72 L510.43,1999.76 L516.89,1999.76 L523.35,2000.29 L529.8,1995.68 L536.26,1996.73 L542.72,1996.73 L549.18,1998.72 L555.63,1996.73 L562.09,1994.73 L568.55,1995.78 L575.01,1998.3 L581.47,1986.56 L587.92,1984.05 L594.38,1987.4 L600.84,1991.59 L607.3,1994.11 L613.75,1994.11 L620.21,1992.43 L626.67,1994.11 L633.13,1992.43 L639.58,1995.78 L646.04,1994.11 L652.5,1992.43 L658.96,1990.75 L665.41,1989.08 L671.87,1989.08 L678.33,1987.4 L684.79,1985.73 L691.25,1987.4 L697.7,1982.37 L704.16,1983.21 L710.62,1979.86 L717.08,1977.45 L723.53,1980.7 L729.99,1982.37 L736.45,1980.7 L742.91,1979.02 L749.36,1974.94 L755.82,1970.75 L762.28,1973.26 L768.74,1979.86 L775.19,1972.42 L781.65,1973.26 L788.11,1971.58 L794.57,1966.67 L801.02,1973.26 L807.48,1975.77 L813.94,1974.94 L820.4,1977.45 L826.86,1979.86 L833.31,1981.54 L839.77,1981.54 L846.23,1987.4 L852.69,1984.05 L859.14,1984.05 L865.6,1989.08 L872.06,1988.24 L878.52,1987.4 L884.97,1985.73 L891.43,1984.05 L897.89,1979.02 L904.35,1981.54 L910.8,1980.7 L917.26,1979.86 L923.72,1983.21 L930.18,1968.28 L936.64,1966.67 L943.09,1977.45 L949.55,1968.28 L956.01,1975.77 L962.47,1979.86 L968.92,1978.29 L975.38,1974.1 L981.84,1970.75 L988.3,1968.28 L994.75,1968.28 L1001.21,1976.61 L1007.67,1981.54 L1014.13,1970.75 L1020.58,1985.73 L1027.04,1992.43 L1027.04,1998.2 L1020.58,1992.72 L1014.13,1980.46 L1007.67,1989.29 L1001.21,1985.26 L994.75,1978.35 L988.3,1978.35 L981.84,1980.46 L975.38,1983.2 L968.92,1986.63 L962.47,1987.92 L956.01,1984.57 L949.55,1978.35 L943.09,1985.94 L936.64,1976.92 L930.18,1978.35 L923.72,1990.66 L917.26,1987.92 L910.8,1988.6 L904.35,1989.29 L897.89,1987.23 L891.43,1991.34 L884.97,1992.72 L878.52,1994.09 L872.06,1994.77 L865.6,1995.46 L859.14,1991.34 L852.69,1991.34 L846.23,1994.09 L839.77,1989.29 L833.31,1989.29 L826.86,1987.92 L820.4,1985.94 L813.94,1983.89 L807.48,1984.57 L801.02,1982.52 L794.57,1976.92 L788.11,1981.14 L781.65,1982.52 L775.19,1981.83 L768.74,1987.92 L762.28,1982.52 L755.82,1980.46 L749.36,1983.89 L742.91,1987.23 L736.45,1988.6 L729.99,1989.97 L723.53,1988.6 L717.08,1985.94 L710.62,1987.92 L704.16,1990.66 L697.7,1989.97 L691.25,1994.09 L684.79,1992.72 L678.33,1994.09 L671.87,1995.46 L665.41,1995.46 L658.96,1996.83 L652.5,1998.2 L646.04,1999.57 L639.58,2000.94 L633.13,1998.2 L626.67,1999.57 L620.21,1998.2 L613.75,1999.57 L607.3,1999.57 L600.84,1997.52 L594.38,1994.09 L587.92,1991.34 L581.47,1993.4 L575.01,2003 L568.55,2000.94 L562.09,2000.09 L555.63,2001.72 L549.18,2003.22 L542.72,2001.72 L536.26,2001.72 L529.8,2000.86 L523.35,2003.22 L516.89,2003.22 L510.43,2003.22 L503.97,2003.22 L497.52,2002.57 L491.06,2003.22 L484.6,2002.57 L478.14,1999.23 L471.69,1998.46 L465.23,1999.23 L458.77,2003.22 L452.31,2003.22 L445.85,2003.22 L439.4,2003 L432.94,2001.72 L426.48,2002.57 L420.02,2003.22 L413.57,2003.22 L407.11,2003.22 L400.65,2001.72 L394.19,2002.57 L387.74,2003.22 L381.28,2003.22 L374.82,2002.57 L368.36,2000.86 L361.91,2002.57 L355.45,1999.23 L348.99,2000.09 L342.53,2002.06 L336.07,2003.22 L329.62,2003.22 L323.16,2003.22 L316.7,2003.22 L310.24,2003.22 L303.79,2003 L297.33,2002.57 L290.87,2000.86 L284.41,1998.46 L277.96,1991.94 L271.5,1996.83 L265.04,1999.23 L258.58,1995.2 L252.13,1995.97 L245.67,2002.57 L239.21,1998.46 L232.75,2000.09 L226.3,1997.6 L219.84,2001.72 L213.38,1999.23 L206.92,2001.72 L200.46,2002.06 L194.01,2002.57 L187.55,2003.22 L181.09,2003.22 L174.63,2003.22 L168.18,2003.22 L161.72,2003.22 L155.26,2003.22 L148.8,2003.22 L142.35,2003.22 L135.89,2003.22 L129.43,2003.22 L122.97,2001.72 L116.52,2002.57 L110.06,2003.22 L103.6,2001.72Z" fill="#8c8c8c" fill-opacity="0.55"/>
<path d="M103.6,1992.21 L110.06,1994.29 L116.52,1997.03 L122.97,1988.04 L129.43,1996.48 L135.89,1999.11 L142.35,1999.11 L148.8,1999.54 L155.26,1999.54 L161.72,1994.94 L168.18,1996.48 L174.63,1999.11 L181.09,1997.9 L187.55,1999.11 L194.01,1993.3 L200.46,1983.88 L206.92,1984.98 L213.38,1975.56 L219.84,1945.02 L226.3,1880.51 L232.75,1904.54 L239.21,1958.55 L245.67,1947.95 L252.13,1947.95 L258.58,1968.22 L265.04,1976.55 L271.5,1988.04 L277.96,1968.22 L284.41,1994.29 L290.87,1994.29 L297.33,1993.3 L303.79,1996.48 L310.24,1998.56 L316.7,1998.56 L323.16,1999.11 L329.62,1999.11 L336.07,1999.11 L342.53,1999.11 L348.99,1998.56 L355.45,1987.06 L361.91,1994.94 L368.36,1985.96 L374.82,1980.71 L381.28,1954.61 L387.74,1949.86 L394.19,1969.21 L400.65,1969.21 L407.11,1988.04 L413.57,1993.3 L420.02,1994.94 L426.48,1997.46 L432.94,1998.56 L439.4,1999.11 L445.85,1997.9 L452.31,1999.11 L458.77,1999.11 L465.23,1998.56 L471.69,1997.03 L478.14,1997.03 L484.6,1990.13 L491.06,1999.11 L497.52,1994.29 L503.97,1997.03 L510.43,1995.82 L516.89,1998.56 L523.35,1999.11 L529.8,1997.46 L536.26,1994.29 L542.72,1998.56 L549.18,1998.56 L555.63,1996.48 L562.09,1991.22 L568.55,1985.64 L575.01,1998.78 L581.47,1987.39 L587.92,1994.4 L594.38,1992.64 L600.84,1997.9 L607.3,1990.89 L613.75,1990.89 L620.21,1987.39 L626.67,1990.02 L633.13,1989.14 L639.58,1994.4 L646.04,1996.15 L652.5,1992.64 L658.96,1989.14 L665.41,1984.76 L671.87,1990.89 L678.33,1983.88 L684.79,1977.75 L691.25,1990.02 L697.7,1995.27 L704.16,1985.64 L710.62,1989.14 L717.08,1985.64 L723.53,1990.02 L729.99,1983.01 L736.45,1979.5 L742.91,1976.11 L749.36,1970.85 L755.82,1959.25 L762.28,1977.75 L768.74,1983.01 L775.19,1981.25 L781.65,1981.25 L788.11,1983.88 L794.57,1977.75 L801.02,1977.75 L807.48,1961.68 L813.94,1960.06 L820.4,1976.11 L826.86,1969.97 L833.31,1974.35 L839.77,1960.87 L846.23,1979.5 L852.69,1977.75 L859.14,1987.39 L865.6,1983.88 L872.06,1989.14 L878.52,1986.51 L884.97,1989.14 L891.43,1994.4 L897.89,1989.14 L904.35,1987.39 L910.8,1980.38 L917.26,1976.87 L923.72,1969.1 L930.18,1995.27 L936.64,1985.64 L943.09,1984.76 L949.55,1977.75 L956.01,1962.48 L962.47,1976.11 L968.92,1984.76 L975.38,1974.35 L981.84,1969.1 L988.3,1976.11 L994.75,1984.76 L1001.21,1976.11 L1007.67,1991.77 L1014.13,1969.1 L1020.58,1983.88 L1027.04,1991.77 L1027.04,2000.39 L1020.58,1994.56 L1014.13,1983.63 L1007.67,2000.39 L1001.21,1988.81 L994.75,1995.21 L988.3,1988.81 L981.84,1983.63 L975.38,1987.52 L968.92,1995.21 L962.47,1988.81 L956.01,1978.06 L949.55,1990.03 L943.09,1995.21 L936.64,1995.85 L930.18,2002.98 L923.72,1983.63 L917.26,1989.38 L910.8,1991.97 L904.35,1997.15 L897.89,1998.44 L891.43,2002.33 L884.97,1998.44 L878.52,1996.5 L872.06,1998.44 L865.6,1994.56 L859.14,1997.15 L852.69,1990.03 L846.23,1991.32 L839.77,1976.62 L833.31,1987.52 L826.86,1984.28 L820.4,1988.81 L813.94,1975.91 L807.48,1977.34 L801.02,1990.03 L794.57,1990.03 L788.11,1994.56 L781.65,1992.62 L775.19,1992.62 L768.74,1993.91 L762.28,1990.03 L755.82,1975.19 L749.36,1984.93 L742.91,1988.81 L736.45,1991.32 L729.99,1993.91 L723.53,1999.09 L717.08,1995.85 L710.62,1998.44 L704.16,1995.85 L697.7,2002.98 L691.25,1999.09 L684.79,1990.03 L678.33,1994.56 L671.87,1999.74 L665.41,1995.21 L658.96,1998.44 L652.5,2001.03 L646.04,2003.22 L639.58,2002.33 L633.13,1998.44 L626.67,1999.09 L620.21,1997.15 L613.75,1999.74 L607.3,1999.74 L600.84,2003.22 L594.38,2001.03 L587.92,2002.33 L581.47,1997.15 L575.01,2003.22 L568.55,1995.85 L562.09,1999.98 L555.63,2003.22 L549.18,2003.22 L542.72,2003.22 L536.26,2002.25 L529.8,2003.22 L523.35,2003.22 L516.89,2003.22 L510.43,2003.22 L503.97,2003.22 L497.52,2002.25 L491.06,2003.22 L484.6,1999.17 L478.14,2003.22 L471.69,2003.22 L465.23,2003.22 L458.77,2003.22 L452.31,2003.22 L445.85,2003.22 L439.4,2003.22 L432.94,2003.22 L426.48,2003.22 L420.02,2002.73 L413.57,2001.52 L407.11,1997.63 L400.65,1983.71 L394.19,1983.71 L387.74,1966.87 L381.28,1971.07 L374.82,1992.21 L368.36,1996.1 L361.91,2002.73 L355.45,1996.91 L348.99,2003.22 L342.53,2003.22 L336.07,2003.22 L329.62,2003.22 L323.16,2003.22 L316.7,2003.22 L310.24,2003.22 L303.79,2003.22 L297.33,2001.52 L290.87,2002.25 L284.41,2002.25 L277.96,1982.98 L271.5,1997.63 L265.04,1989.13 L258.58,1982.98 L252.13,1965.16 L245.67,1965.16 L239.21,1974.56 L232.75,1926.67 L226.3,1905.37 L219.84,1962.57 L213.38,1988.41 L206.92,1995.37 L200.46,1994.56 L194.01,2001.52 L187.55,2003.22 L181.09,2003.22 L174.63,2003.22 L168.18,2003.22 L161.72,2002.73 L155.26,2003.22 L148.8,2003.22 L142.35,2003.22 L135.89,2003.22 L129.43,2003.22 L122.97,1997.63 L116.52,2003.22 L110.06,2002.25 L103.6,2000.71Z" fill="#e6822a" fill-opacity="0.55"/>
<polyline points="103.6,1999.22 110.06,2001.03 116.52,2000.17 122.97,1999.22 129.43,2001.98 135.89,2001.98 142.35,2001.41 148.8,2002.46 155.26,2002.46 161.72,2001.41 168.18,2001.03 174.63,2001.98 181.09,2001.98 187.55,2001.98 194.01,2000.17 200.46,1999.6 206.92,1999.22 213.38,1996.46 219.84,1999.22 226.3,1994.65 232.75,1997.41 239.21,1995.6 245.67,2000.17 252.13,1992.84 258.58,1991.98 265.04,1996.46 271.5,1993.79 277.96,1988.36 284.41,1995.6 290.87,1998.27 297.33,2000.17 303.79,2000.65 310.24,2001.03 316.7,2001.03 323.16,2001.41 329.62,2001.98 336.07,2001.03 342.53,1999.6 348.99,1997.41 355.45,1996.46 361.91,2000.17 368.36,1998.27 374.82,2000.17 381.28,2001.03 387.74,2001.03 394.19,2000.17 400.65,1999.22 407.11,2001.03 413.57,2001.41 420.02,2001.41 426.48,2000.17 432.94,1999.22 439.4,2000.65 445.85,2001.41 452.31,2001.03 458.77,2001.03 465.23,1996.46 471.69,1995.6 478.14,1996.46 484.6,2000.17 491.06,2001.03 497.52,2000.17 503.97,2001.03 510.43,2001.98 516.89,2001.98 523.35,2002.46 529.8,1998.27 536.26,1999.22 542.72,1999.22 549.18,2001.03 555.63,1999.22 562.09,1997.41 568.55,1998.36 575.01,2000.65 581.47,1989.98 587.92,1987.7 594.38,1990.74 600.84,1994.55 607.3,1996.84 613.75,1996.84 620.21,1995.32 626.67,1996.84 633.13,1995.32 639.58,1998.36 646.04,1996.84 652.5,1995.32 658.96,1993.79 665.41,1992.27 671.87,1992.27 678.33,1990.74 684.79,1989.22 691.25,1990.74 697.7,1986.17 704.16,1986.94 710.62,1983.89 717.08,1981.7 723.53,1984.65 729.99,1986.17 736.45,1984.65 742.91,1983.13 749.36,1979.41 755.82,1975.6 762.28,1977.89 768.74,1983.89 775.19,1977.13 781.65,1977.89 788.11,1976.36 794.57,1971.79 801.02,1977.89 807.48,1980.17 813.94,1979.41 820.4,1981.7 826.86,1983.89 833.31,1985.41 839.77,1985.41 846.23,1990.74 852.69,1987.7 859.14,1987.7 865.6,1992.27 872.06,1991.51 878.52,1990.74 884.97,1989.22 891.43,1987.7 897.89,1983.13 904.35,1985.41 910.8,1984.65 917.26,1983.89 923.72,1986.94 930.18,1973.32 936.64,1971.79 943.09,1981.7 949.55,1973.32 956.01,1980.17 962.47,1983.89 968.92,1982.46 975.38,1978.65 981.84,1975.6 988.3,1973.32 994.75,1973.32 1001.21,1980.94 1007.67,1985.41 1014.13,1975.6 1020.58,1989.22 1027.04,1995.32" fill="none" stroke="#848484" stroke-width="1.35" stroke-linejoin="round"/>
<polyline points="103.6,1996.46 110.06,1998.27 116.52,2000.65 122.97,1992.84 129.43,2000.17 135.89,2002.46 142.35,2002.46 148.8,2002.84 155.26,2002.84 161.72,1998.84 168.18,2000.17 174.63,2002.46 181.09,2001.41 187.55,2002.46 194.01,1997.41 200.46,1989.22 206.92,1990.17 213.38,1981.98 219.84,1953.79 226.3,1892.94 232.75,1915.61 239.21,1966.56 245.67,1956.56 252.13,1956.56 258.58,1975.6 265.04,1982.84 271.5,1992.84 277.96,1975.6 284.41,1998.27 290.87,1998.27 297.33,1997.41 303.79,2000.17 310.24,2001.98 316.7,2001.98 323.16,2002.46 329.62,2002.46 336.07,2002.46 342.53,2002.46 348.99,2001.98 355.45,1991.98 361.91,1998.84 368.36,1991.03 374.82,1986.46 381.28,1962.84 387.74,1958.37 394.19,1976.46 400.65,1976.46 407.11,1992.84 413.57,1997.41 420.02,1998.84 426.48,2001.03 432.94,2001.98 439.4,2002.46 445.85,2001.41 452.31,2002.46 458.77,2002.46 465.23,2001.98 471.69,2000.65 478.14,2000.65 484.6,1994.65 491.06,2002.46 497.52,1998.27 503.97,2000.65 510.43,1999.6 516.89,2001.98 523.35,2002.46 529.8,2001.03 536.26,1998.27 542.72,2001.98 549.18,2001.98 555.63,2000.17 562.09,1995.6 568.55,1990.74 575.01,2002.17 581.47,1992.27 587.92,1998.36 594.38,1996.84 600.84,2001.41 607.3,1995.32 613.75,1995.32 620.21,1992.27 626.67,1994.55 633.13,1993.79 639.58,1998.36 646.04,1999.89 652.5,1996.84 658.96,1993.79 665.41,1989.98 671.87,1995.32 678.33,1989.22 684.79,1983.89 691.25,1994.55 697.7,1999.12 704.16,1990.74 710.62,1993.79 717.08,1990.74 723.53,1994.55 729.99,1988.46 736.45,1985.41 742.91,1982.46 749.36,1977.89 755.82,1967.22 762.28,1983.89 768.74,1988.46 775.19,1986.94 781.65,1986.94 788.11,1989.22 794.57,1983.89 801.02,1983.89 807.48,1969.51 813.94,1967.98 820.4,1982.46 826.86,1977.13 833.31,1980.94 839.77,1968.75 846.23,1985.41 852.69,1983.89 859.14,1992.27 865.6,1989.22 872.06,1993.79 878.52,1991.51 884.97,1993.79 891.43,1998.36 897.89,1993.79 904.35,1992.27 910.8,1986.17 917.26,1983.13 923.72,1976.36 930.18,1999.12 936.64,1990.74 943.09,1989.98 949.55,1983.89 956.01,1970.27 962.47,1982.46 968.92,1989.98 975.38,1980.94 981.84,1976.36 988.3,1982.46 994.75,1989.98 1001.21,1982.46 1007.67,1996.08 1014.13,1976.36 1020.58,1989.22 1027.04,1996.08" fill="none" stroke="#e6822a" stroke-width="1.35" stroke-linejoin="round"/>
</g>
<rect x="103.6" y="1860.37" width="929.9" height="142.85" fill="none" stroke="#858585" stroke-width="1.5"/>
<line x1="100.8" y1="2003.22" x2="103.6" y2="2003.22" stroke="#858585" stroke-width="1.2"/>
<text x="99.4" y="2008.32" class="t14" text-anchor="end">0</text>
<line x1="100.8" y1="1955.6" x2="103.6" y2="1955.6" stroke="#858585" stroke-width="1.2"/>
<text x="99.4" y="1960.7" class="t14" text-anchor="end">50</text>
<line x1="100.8" y1="1907.99" x2="103.6" y2="1907.99" stroke="#858585" stroke-width="1.2"/>
<text x="99.4" y="1913.09" class="t14" text-anchor="end">100</text>
<line x1="100.8" y1="1860.37" x2="103.6" y2="1860.37" stroke="#858585" stroke-width="1.2"/>
<text x="99.4" y="1865.47" class="t14" text-anchor="end">150</text>
<line x1="103.6" y1="2003.22" x2="103.6" y2="2006.02" stroke="#858585" stroke-width="1.2"/>
<line x1="219.84" y1="2003.22" x2="219.84" y2="2006.02" stroke="#858585" stroke-width="1.2"/>
<line x1="336.07" y1="2003.22" x2="336.07" y2="2006.02" stroke="#858585" stroke-width="1.2"/>
<line x1="452.31" y1="2003.22" x2="452.31" y2="2006.02" stroke="#858585" stroke-width="1.2"/>
<line x1="568.55" y1="2003.22" x2="568.55" y2="2006.02" stroke="#858585" stroke-width="1.2"/>
<line x1="684.79" y1="2003.22" x2="684.79" y2="2006.02" stroke="#858585" stroke-width="1.2"/>
<line x1="801.02" y1="2003.22" x2="801.02" y2="2006.02" stroke="#858585" stroke-width="1.2"/>
<line x1="917.26" y1="2003.22" x2="917.26" y2="2006.02" stroke="#858585" stroke-width="1.2"/>
<line x1="1033.5" y1="2003.22" x2="1033.5" y2="2006.02" stroke="#858585" stroke-width="1.2"/>
<text transform="translate(51.6,1931.8) rotate(-90)" class="t14" text-anchor="middle">GSK: 10mg/kg</text>
<text transform="translate(66.4,1931.8) rotate(-90)" class="t14" text-anchor="middle">Distance (cm / min)</text>
<clipPath id="u2"><rect x="103.6" y="2017.84" width="929.9" height="142.85"/></clipPath>
<g clip-path="url(#u2)">
<rect x="568.55" y="2017.84" width="464.95" height="142.85" fill="#e4e4e4"/>
<rect x="336.07" y="2017.84" width="116.24" height="142.85" fill="url(#hatch)"/>
<path d="M103.6,2113.07H1033.5M103.6,2065.46H1033.5M219.84,2017.84V2160.69M336.07,2017.84V2160.69M452.31,2017.84V2160.69M568.55,2017.84V2160.69M684.79,2017.84V2160.69M801.02,2017.84V2160.69M917.26,2017.84V2160.69" stroke="#b0b0b0" stroke-opacity="0.55" stroke-width="1.2" fill="none"/>
<rect x="336.07" y="2017.84" width="116.24" height="142.85" fill="none" stroke="#d9c33e" stroke-width="1.7"/>
<path d="M103.6,2152.62 L110.06,2155.56 L116.52,2153.57 L122.97,2152.62 L129.43,2155.56 L135.89,2153.57 L142.35,2155.56 L148.8,2156.6 L155.26,2157.55 L161.72,2156.6 L168.18,2154.61 L174.63,2153.57 L181.09,2158.18 L187.55,2153.57 L194.01,2150.63 L200.46,2154.61 L206.92,2155.56 L213.38,2155.03 L219.84,2153.57 L226.3,2152.62 L232.75,2151.58 L239.21,2153.57 L245.67,2155.56 L252.13,2144.66 L258.58,2145.61 L265.04,2142.67 L271.5,2139.63 L277.96,2139.63 L284.41,2146.65 L290.87,2152.62 L297.33,2157.55 L303.79,2156.6 L310.24,2157.02 L316.7,2157.55 L323.16,2157.55 L329.62,2157.02 L336.07,2153.57 L342.53,2153.57 L348.99,2155.03 L355.45,2157.02 L361.91,2155.56 L368.36,2157.02 L374.82,2157.02 L381.28,2157.02 L387.74,2152.62 L394.19,2155.56 L400.65,2154.2 L407.11,2155.56 L413.57,2157.02 L420.02,2157.02 L426.48,2155.56 L432.94,2147.6 L439.4,2155.03 L445.85,2156.6 L452.31,2155.56 L458.77,2155.03 L465.23,2155.56 L471.69,2154.61 L478.14,2155.56 L484.6,2152.62 L491.06,2154.61 L497.52,2155.56 L503.97,2155.03 L510.43,2157.02 L516.89,2157.02 L523.35,2156.6 L529.8,2155.56 L536.26,2153.57 L542.72,2154.61 L549.18,2152.62 L555.63,2157.55 L562.09,2157.55 L568.55,2155.56 L575.01,2151.89 L581.47,2146.86 L587.92,2137.64 L594.38,2142.67 L600.84,2150.21 L607.3,2152.73 L613.75,2155.24 L620.21,2151.05 L626.67,2151.89 L633.13,2150.21 L639.58,2151.05 L646.04,2148.54 L652.5,2146.02 L658.96,2150.21 L665.41,2148.54 L671.87,2149.38 L678.33,2146.02 L684.79,2144.35 L691.25,2141 L697.7,2140.16 L704.16,2139.32 L710.62,2138.48 L717.08,2139.32 L723.53,2141 L729.99,2134.29 L736.45,2132.62 L742.91,2127.59 L749.36,2126.76 L755.82,2130.1 L762.28,2130.94 L768.74,2130.1 L775.19,2125.15 L781.65,2125.96 L788.11,2130.1 L794.57,2130.94 L801.02,2134.29 L807.48,2125.86 L813.94,2134.29 L820.4,2132.62 L826.86,2135.97 L833.31,2136.81 L839.77,2139.32 L846.23,2136.81 L852.69,2139.32 L859.14,2135.97 L865.6,2135.13 L872.06,2135.97 L878.52,2135.97 L884.97,2139.32 L891.43,2143.51 L897.89,2137.64 L904.35,2141.83 L910.8,2141.83 L917.26,2142.67 L923.72,2144.35 L930.18,2140.16 L936.64,2125.86 L943.09,2128.42 L949.55,2130.94 L956.01,2133.45 L962.47,2125.86 L968.92,2130.1 L975.38,2133.45 L981.84,2122.63 L988.3,2127.59 L994.75,2132.62 L1001.21,2122.63 L1007.67,2130.1 L1014.13,2127.59 L1020.58,2132.62 L1027.04,2146.02 L1027.04,2152.5 L1020.58,2141.53 L1014.13,2137.41 L1007.67,2139.47 L1001.21,2133.04 L994.75,2141.53 L988.3,2137.41 L981.84,2133.04 L975.38,2142.21 L968.92,2139.47 L962.47,2135.91 L956.01,2142.21 L949.55,2140.16 L943.09,2138.1 L936.64,2135.91 L930.18,2147.7 L923.72,2151.13 L917.26,2149.76 L910.8,2149.07 L904.35,2149.07 L897.89,2145.64 L891.43,2150.44 L884.97,2147.01 L878.52,2144.27 L872.06,2144.27 L865.6,2143.59 L859.14,2144.27 L852.69,2147.01 L846.23,2144.96 L839.77,2147.01 L833.31,2144.96 L826.86,2144.27 L820.4,2141.53 L813.94,2142.9 L807.48,2135.91 L801.02,2142.9 L794.57,2140.16 L788.11,2139.47 L781.65,2136 L775.19,2135.28 L768.74,2139.47 L762.28,2140.16 L755.82,2139.47 L749.36,2136.71 L742.91,2137.41 L736.45,2141.53 L729.99,2142.9 L723.53,2148.39 L717.08,2147.01 L710.62,2146.33 L704.16,2147.01 L697.7,2147.7 L691.25,2148.39 L684.79,2151.13 L678.33,2152.5 L671.87,2155.24 L665.41,2154.56 L658.96,2155.93 L652.5,2152.5 L646.04,2154.56 L639.58,2156.61 L633.13,2155.93 L626.67,2157.3 L620.21,2156.61 L613.75,2160.04 L607.3,2157.99 L600.84,2155.93 L594.38,2149.76 L587.92,2145.64 L581.47,2153.19 L575.01,2157.3 L568.55,2160.3 L562.09,2160.69 L555.63,2160.69 L549.18,2157.9 L542.72,2159.53 L536.26,2158.67 L529.8,2160.3 L523.35,2160.69 L516.89,2160.69 L510.43,2160.69 L503.97,2159.87 L497.52,2160.3 L491.06,2159.53 L484.6,2157.9 L478.14,2160.3 L471.69,2159.53 L465.23,2160.3 L458.77,2159.87 L452.31,2160.3 L445.85,2160.69 L439.4,2159.87 L432.94,2153.79 L426.48,2160.3 L420.02,2160.69 L413.57,2160.69 L407.11,2160.3 L400.65,2159.19 L394.19,2160.3 L387.74,2157.9 L381.28,2160.69 L374.82,2160.69 L368.36,2160.69 L361.91,2160.3 L355.45,2160.69 L348.99,2159.87 L342.53,2158.67 L336.07,2158.67 L329.62,2160.69 L323.16,2160.69 L316.7,2160.69 L310.24,2160.69 L303.79,2160.69 L297.33,2160.69 L290.87,2157.9 L284.41,2153.01 L277.96,2147.27 L271.5,2147.27 L265.04,2149.76 L258.58,2152.16 L252.13,2151.39 L245.67,2160.3 L239.21,2158.67 L232.75,2157.04 L226.3,2157.9 L219.84,2158.67 L213.38,2159.87 L206.92,2160.3 L200.46,2159.53 L194.01,2156.27 L187.55,2158.67 L181.09,2160.69 L174.63,2158.67 L168.18,2159.53 L161.72,2160.69 L155.26,2160.69 L148.8,2160.69 L142.35,2160.3 L135.89,2158.67 L129.43,2160.3 L122.97,2157.9 L116.52,2158.67 L110.06,2160.3 L103.6,2157.9Z" fill="#8c8c8c" fill-opacity="0.55"/>
<path d="M103.6,2154.28 L110.06,2155.81 L116.52,2156.36 L122.97,2148.03 L129.43,2150.11 L135.89,2156.36 L142.35,2152.2 L148.8,2155.81 L155.26,2151.21 L161.72,2156.36 L168.18,2155.81 L174.63,2155.37 L181.09,2150.11 L187.55,2154.28 L194.01,2151.21 L200.46,2148.03 L206.92,2149.13 L213.38,2142.89 L219.84,2132.37 L226.3,2003.86 L232.75,2079.88 L239.21,2108.75 L245.67,2110.67 L252.13,2115.41 L258.58,2110.67 L265.04,2126.13 L271.5,2138.61 L277.96,2144.97 L284.41,2157.01 L290.87,2156.36 L297.33,2157.01 L303.79,2147.05 L310.24,2152.2 L316.7,2151.21 L323.16,2154.28 L329.62,2155.81 L336.07,2156.58 L342.53,2156.58 L348.99,2156.58 L355.45,2156.58 L361.91,2151.21 L368.36,2155.37 L374.82,2154.28 L381.28,2105.82 L387.74,2100.97 L394.19,2130.29 L400.65,2143.87 L407.11,2140.81 L413.57,2152.2 L420.02,2155.37 L426.48,2157.01 L432.94,2156.58 L439.4,2156.36 L445.85,2153.73 L452.31,2154.28 L458.77,2156.36 L465.23,2152.2 L471.69,2155.81 L478.14,2149.13 L484.6,2153.73 L491.06,2152.85 L497.52,2152.2 L503.97,2153.29 L510.43,2155.37 L516.89,2153.29 L523.35,2153.73 L529.8,2151.21 L536.26,2149.13 L542.72,2154.28 L549.18,2154.93 L555.63,2152.2 L562.09,2157.01 L568.55,2154.82 L575.01,2150.44 L581.47,2147.81 L587.92,2136.42 L594.38,2146.94 L600.84,2152.2 L607.3,2154.82 L613.75,2150.44 L620.21,2141.68 L626.67,2149.57 L633.13,2151.32 L639.58,2151.32 L646.04,2156.58 L652.5,2149.57 L658.96,2148.69 L665.41,2144.31 L671.87,2155.7 L678.33,2149.57 L684.79,2144.31 L691.25,2153.95 L697.7,2156.9 L704.16,2152.2 L710.62,2151.65 L717.08,2152.2 L723.53,2150.44 L729.99,2148.69 L736.45,2146.94 L742.91,2148.69 L749.36,2143.43 L755.82,2137.3 L762.28,2140.81 L768.74,2145.19 L775.19,2137.3 L781.65,2135.55 L788.11,2132.92 L794.57,2131.17 L801.02,2143.43 L807.48,2116.82 L813.94,2139.93 L820.4,2141.68 L826.86,2146.94 L833.31,2151.32 L839.77,2153.07 L846.23,2151.32 L852.69,2152.2 L859.14,2146.94 L865.6,2141.68 L872.06,2149.57 L878.52,2150.44 L884.97,2146.94 L891.43,2145.19 L897.89,2152.2 L904.35,2151.32 L910.8,2133.8 L917.26,2131.17 L923.72,2123.28 L930.18,2133.8 L936.64,2123.28 L943.09,2116.82 L949.55,2125.91 L956.01,2126.79 L962.47,2130.29 L968.92,2133.8 L975.38,2137.3 L981.84,2141.68 L988.3,2137.3 L994.75,2140.81 L1001.21,2140.81 L1007.67,2132.92 L1014.13,2128.54 L1020.58,2143.43 L1027.04,2148.69 L1027.04,2157.45 L1020.58,2153.57 L1014.13,2142.56 L1007.67,2145.8 L1001.21,2151.62 L994.75,2151.62 L988.3,2149.03 L981.84,2152.27 L975.38,2149.03 L968.92,2146.44 L962.47,2143.85 L956.01,2141.26 L949.55,2140.61 L943.09,2132.75 L936.64,2138.48 L930.18,2146.44 L923.72,2138.48 L917.26,2144.5 L910.8,2146.44 L904.35,2159.39 L897.89,2160.04 L891.43,2154.86 L884.97,2156.16 L878.52,2158.75 L872.06,2158.1 L865.6,2152.27 L859.14,2156.16 L852.69,2160.04 L846.23,2159.39 L839.77,2160.69 L833.31,2159.39 L826.86,2156.16 L820.4,2152.27 L813.94,2150.98 L807.48,2132.75 L801.02,2153.57 L794.57,2144.5 L788.11,2145.8 L781.65,2147.74 L775.19,2149.03 L768.74,2154.86 L762.28,2151.62 L755.82,2149.03 L749.36,2153.57 L742.91,2157.45 L736.45,2156.16 L729.99,2157.45 L723.53,2158.75 L717.08,2160.04 L710.62,2159.64 L704.16,2160.04 L697.7,2160.69 L691.25,2160.69 L684.79,2154.21 L678.33,2158.1 L671.87,2160.69 L665.41,2154.21 L658.96,2157.45 L652.5,2158.1 L646.04,2160.69 L639.58,2159.39 L633.13,2159.39 L626.67,2158.1 L620.21,2152.27 L613.75,2158.75 L607.3,2160.69 L600.84,2160.04 L594.38,2156.16 L587.92,2148.39 L581.47,2156.8 L575.01,2158.75 L568.55,2160.69 L562.09,2160.69 L555.63,2160.04 L549.18,2160.69 L542.72,2160.69 L536.26,2157.78 L529.8,2159.31 L523.35,2160.69 L516.89,2160.69 L510.43,2160.69 L503.97,2160.69 L497.52,2160.04 L491.06,2160.53 L484.6,2160.69 L478.14,2157.78 L471.69,2160.69 L465.23,2160.04 L458.77,2160.69 L452.31,2160.69 L445.85,2160.69 L439.4,2160.69 L432.94,2160.69 L426.48,2160.69 L420.02,2160.69 L413.57,2160.04 L407.11,2151.62 L400.65,2153.89 L394.19,2143.85 L387.74,2118.7 L381.28,2122.99 L374.82,2160.69 L368.36,2160.69 L361.91,2159.31 L355.45,2160.69 L348.99,2160.69 L342.53,2160.69 L336.07,2160.69 L329.62,2160.69 L323.16,2160.69 L316.7,2159.31 L310.24,2160.04 L303.79,2156.24 L297.33,2160.69 L290.87,2160.69 L284.41,2160.69 L277.96,2154.7 L271.5,2150 L265.04,2140.78 L258.58,2127.29 L252.13,2131.5 L245.67,2127.29 L239.21,2125.59 L232.75,2099.99 L226.3,2032.58 L219.84,2145.39 L213.38,2153.16 L206.92,2157.78 L200.46,2156.97 L194.01,2159.31 L187.55,2160.69 L181.09,2158.5 L174.63,2160.69 L168.18,2160.69 L161.72,2160.69 L155.26,2159.31 L148.8,2160.69 L142.35,2160.04 L135.89,2160.69 L129.43,2158.5 L122.97,2156.97 L116.52,2160.69 L110.06,2160.69 L103.6,2160.69Z" fill="#5c9e3a" fill-opacity="0.55"/>
<polyline points="103.6,2155.26 110.06,2157.93 116.52,2156.12 122.97,2155.26 129.43,2157.93 135.89,2156.12 142.35,2157.93 148.8,2158.88 155.26,2159.74 161.72,2158.88 168.18,2157.07 174.63,2156.12 181.09,2160.31 187.55,2156.12 194.01,2153.45 200.46,2157.07 206.92,2157.93 213.38,2157.45 219.84,2156.12 226.3,2155.26 232.75,2154.31 239.21,2156.12 245.67,2157.93 252.13,2148.02 258.58,2148.88 265.04,2146.21 271.5,2143.45 277.96,2143.45 284.41,2149.83 290.87,2155.26 297.33,2159.74 303.79,2158.88 310.24,2159.26 316.7,2159.74 323.16,2159.74 329.62,2159.26 336.07,2156.12 342.53,2156.12 348.99,2157.45 355.45,2159.26 361.91,2157.93 368.36,2159.26 374.82,2159.26 381.28,2159.26 387.74,2155.26 394.19,2157.93 400.65,2156.69 407.11,2157.93 413.57,2159.26 420.02,2159.26 426.48,2157.93 432.94,2150.69 439.4,2157.45 445.85,2158.88 452.31,2157.93 458.77,2157.45 465.23,2157.93 471.69,2157.07 478.14,2157.93 484.6,2155.26 491.06,2157.07 497.52,2157.93 503.97,2157.45 510.43,2159.26 516.89,2159.26 523.35,2158.88 529.8,2157.93 536.26,2156.12 542.72,2157.07 549.18,2155.26 555.63,2159.74 562.09,2159.74 568.55,2157.93 575.01,2154.6 581.47,2150.02 587.92,2141.64 594.38,2146.21 600.84,2153.07 607.3,2155.36 613.75,2157.64 620.21,2153.83 626.67,2154.6 633.13,2153.07 639.58,2153.83 646.04,2151.55 652.5,2149.26 658.96,2153.07 665.41,2151.55 671.87,2152.31 678.33,2149.26 684.79,2147.74 691.25,2144.69 697.7,2143.93 704.16,2143.17 710.62,2142.41 717.08,2143.17 723.53,2144.69 729.99,2138.6 736.45,2137.07 742.91,2132.5 749.36,2131.74 755.82,2134.79 762.28,2135.55 768.74,2134.79 775.19,2130.22 781.65,2130.98 788.11,2134.79 794.57,2135.55 801.02,2138.6 807.48,2130.88 813.94,2138.6 820.4,2137.07 826.86,2140.12 833.31,2140.88 839.77,2143.17 846.23,2140.88 852.69,2143.17 859.14,2140.12 865.6,2139.36 872.06,2140.12 878.52,2140.12 884.97,2143.17 891.43,2146.98 897.89,2141.64 904.35,2145.45 910.8,2145.45 917.26,2146.21 923.72,2147.74 930.18,2143.93 936.64,2130.88 943.09,2133.26 949.55,2135.55 956.01,2137.83 962.47,2130.88 968.92,2134.79 975.38,2137.83 981.84,2127.83 988.3,2132.5 994.75,2137.07 1001.21,2127.83 1007.67,2134.79 1014.13,2132.5 1020.58,2137.07 1027.04,2149.26" fill="none" stroke="#848484" stroke-width="1.35" stroke-linejoin="round"/>
<polyline points="103.6,2157.93 110.06,2159.26 116.52,2159.74 122.97,2152.5 129.43,2154.31 135.89,2159.74 142.35,2156.12 148.8,2159.26 155.26,2155.26 161.72,2159.74 168.18,2159.26 174.63,2158.88 181.09,2154.31 187.55,2157.93 194.01,2155.26 200.46,2152.5 206.92,2153.45 213.38,2148.02 219.84,2138.88 226.3,2018.22 232.75,2089.93 239.21,2117.17 245.67,2118.98 252.13,2123.45 258.58,2118.98 265.04,2133.45 271.5,2144.31 277.96,2149.83 284.41,2160.31 290.87,2159.74 297.33,2160.31 303.79,2151.64 310.24,2156.12 316.7,2155.26 323.16,2157.93 329.62,2159.26 336.07,2159.93 342.53,2159.93 348.99,2159.93 355.45,2159.93 361.91,2155.26 368.36,2158.88 374.82,2157.93 381.28,2114.41 387.74,2109.84 394.19,2137.07 400.65,2148.88 407.11,2146.21 413.57,2156.12 420.02,2158.88 426.48,2160.31 432.94,2159.93 439.4,2159.74 445.85,2157.45 452.31,2157.93 458.77,2159.74 465.23,2156.12 471.69,2159.26 478.14,2153.45 484.6,2157.45 491.06,2156.69 497.52,2156.12 503.97,2157.07 510.43,2158.88 516.89,2157.07 523.35,2157.45 529.8,2155.26 536.26,2153.45 542.72,2157.93 549.18,2158.5 555.63,2156.12 562.09,2160.31 568.55,2158.4 575.01,2154.6 581.47,2152.31 587.92,2142.41 594.38,2151.55 600.84,2156.12 607.3,2158.4 613.75,2154.6 620.21,2146.98 626.67,2153.83 633.13,2155.36 639.58,2155.36 646.04,2159.93 652.5,2153.83 658.96,2153.07 665.41,2149.26 671.87,2159.17 678.33,2153.83 684.79,2149.26 691.25,2157.64 697.7,2160.21 704.16,2156.12 710.62,2155.64 717.08,2156.12 723.53,2154.6 729.99,2153.07 736.45,2151.55 742.91,2153.07 749.36,2148.5 755.82,2143.17 762.28,2146.21 768.74,2150.02 775.19,2143.17 781.65,2141.64 788.11,2139.36 794.57,2137.83 801.02,2148.5 807.48,2124.79 813.94,2145.45 820.4,2146.98 826.86,2151.55 833.31,2155.36 839.77,2156.88 846.23,2155.36 852.69,2156.12 859.14,2151.55 865.6,2146.98 872.06,2153.83 878.52,2154.6 884.97,2151.55 891.43,2150.02 897.89,2156.12 904.35,2155.36 910.8,2140.12 917.26,2137.83 923.72,2130.88 930.18,2140.12 936.64,2130.88 943.09,2124.79 949.55,2133.26 956.01,2134.02 962.47,2137.07 968.92,2140.12 975.38,2143.17 981.84,2146.98 988.3,2143.17 994.75,2146.21 1001.21,2146.21 1007.67,2139.36 1014.13,2135.55 1020.58,2148.5 1027.04,2153.07" fill="none" stroke="#5c9e3a" stroke-width="1.35" stroke-linejoin="round"/>
</g>
<rect x="103.6" y="2017.84" width="929.9" height="142.85" fill="none" stroke="#858585" stroke-width="1.5"/>
<line x1="100.8" y1="2160.69" x2="103.6" y2="2160.69" stroke="#858585" stroke-width="1.2"/>
<text x="99.4" y="2165.79" class="t14" text-anchor="end">0</text>
<line x1="100.8" y1="2113.07" x2="103.6" y2="2113.07" stroke="#858585" stroke-width="1.2"/>
<text x="99.4" y="2118.17" class="t14" text-anchor="end">50</text>
<line x1="100.8" y1="2065.46" x2="103.6" y2="2065.46" stroke="#858585" stroke-width="1.2"/>
<text x="99.4" y="2070.56" class="t14" text-anchor="end">100</text>
<line x1="100.8" y1="2017.84" x2="103.6" y2="2017.84" stroke="#858585" stroke-width="1.2"/>
<text x="99.4" y="2022.94" class="t14" text-anchor="end">150</text>
<line x1="103.6" y1="2160.69" x2="103.6" y2="2163.49" stroke="#858585" stroke-width="1.2"/>
<line x1="219.84" y1="2160.69" x2="219.84" y2="2163.49" stroke="#858585" stroke-width="1.2"/>
<line x1="336.07" y1="2160.69" x2="336.07" y2="2163.49" stroke="#858585" stroke-width="1.2"/>
<line x1="452.31" y1="2160.69" x2="452.31" y2="2163.49" stroke="#858585" stroke-width="1.2"/>
<line x1="568.55" y1="2160.69" x2="568.55" y2="2163.49" stroke="#858585" stroke-width="1.2"/>
<line x1="684.79" y1="2160.69" x2="684.79" y2="2163.49" stroke="#858585" stroke-width="1.2"/>
<line x1="801.02" y1="2160.69" x2="801.02" y2="2163.49" stroke="#858585" stroke-width="1.2"/>
<line x1="917.26" y1="2160.69" x2="917.26" y2="2163.49" stroke="#858585" stroke-width="1.2"/>
<line x1="1033.5" y1="2160.69" x2="1033.5" y2="2163.49" stroke="#858585" stroke-width="1.2"/>
<text transform="translate(51.6,2089.27) rotate(-90)" class="t14" text-anchor="middle">GSK: 50mg/kg</text>
<text transform="translate(66.4,2089.27) rotate(-90)" class="t14" text-anchor="middle">Distance (cm / min)</text>
<clipPath id="u3"><rect x="103.6" y="2175.31" width="929.9" height="142.85"/></clipPath>
<g clip-path="url(#u3)">
<rect x="568.55" y="2175.31" width="464.95" height="142.85" fill="#e4e4e4"/>
<rect x="336.07" y="2175.31" width="116.24" height="142.85" fill="url(#hatch)"/>
<path d="M103.6,2270.54H1033.5M103.6,2222.93H1033.5M219.84,2175.31V2318.16M336.07,2175.31V2318.16M452.31,2175.31V2318.16M568.55,2175.31V2318.16M684.79,2175.31V2318.16M801.02,2175.31V2318.16M917.26,2175.31V2318.16" stroke="#b0b0b0" stroke-opacity="0.55" stroke-width="1.2" fill="none"/>
<rect x="336.07" y="2175.31" width="116.24" height="142.85" fill="none" stroke="#d9c33e" stroke-width="1.7"/>
<path d="M103.6,2306.11 L110.06,2312.08 L116.52,2308.1 L122.97,2305.07 L129.43,2314.07 L135.89,2315.23 L142.35,2314.07 L148.8,2314.49 L155.26,2313.03 L161.72,2313.66 L168.18,2314.49 L174.63,2313.03 L181.09,2312.5 L187.55,2313.03 L194.01,2310.09 L200.46,2309.05 L206.92,2305.07 L213.38,2307.06 L219.84,2307.06 L226.3,2306.11 L232.75,2305.07 L239.21,2307.06 L245.67,2306.11 L252.13,2308.1 L258.58,2310.09 L265.04,2311.67 L271.5,2311.67 L277.96,2309.05 L284.41,2311.04 L290.87,2312.08 L297.33,2313.03 L303.79,2314.07 L310.24,2315.02 L316.7,2314.07 L323.16,2313.03 L329.62,2312.08 L336.07,2312.08 L342.53,2313.03 L348.99,2308.1 L355.45,2307.06 L361.91,2307.06 L368.36,2310.09 L374.82,2314.07 L381.28,2314.49 L387.74,2314.07 L394.19,2313.03 L400.65,2311.04 L407.11,2310.09 L413.57,2308.1 L420.02,2310.09 L426.48,2313.03 L432.94,2308.1 L439.4,2308.1 L445.85,2313.03 L452.31,2314.07 L458.77,2313.66 L465.23,2313.66 L471.69,2314.07 L478.14,2314.49 L484.6,2314.49 L491.06,2314.07 L497.52,2313.03 L503.97,2312.08 L510.43,2313.03 L516.89,2313.03 L523.35,2312.5 L529.8,2310.09 L536.26,2311.67 L542.72,2312.5 L549.18,2313.66 L555.63,2313.03 L562.09,2310.09 L568.55,2312.4 L575.01,2309.05 L581.47,2304.02 L587.92,2300.67 L594.38,2305.69 L600.84,2308.21 L607.3,2310.72 L613.75,2309.88 L620.21,2308.21 L626.67,2309.05 L633.13,2310.72 L639.58,2299.83 L646.04,2304.86 L652.5,2298.99 L658.96,2298.99 L665.41,2297.31 L671.87,2296.37 L678.33,2294.69 L684.79,2292.18 L691.25,2294.69 L697.7,2291.34 L704.16,2286.31 L710.62,2287.15 L717.08,2295.53 L723.53,2289.67 L729.99,2288.83 L736.45,2296.37 L742.91,2289.67 L749.36,2288.83 L755.82,2293.02 L762.28,2294.69 L768.74,2291.34 L775.19,2304.02 L781.65,2295.53 L788.11,2286.31 L794.57,2289.67 L801.02,2289.67 L807.48,2299.83 L813.94,2293.02 L820.4,2291.34 L826.86,2293.02 L833.31,2297.31 L839.77,2293.02 L846.23,2291.34 L852.69,2294.69 L859.14,2294.69 L865.6,2293.02 L872.06,2287.15 L878.52,2291.34 L884.97,2293.02 L891.43,2304.02 L897.89,2296.37 L904.35,2287.99 L910.8,2288.83 L917.26,2296.37 L923.72,2294.69 L930.18,2293.86 L936.64,2293.86 L943.09,2287.99 L949.55,2294.69 L956.01,2287.99 L962.47,2292.18 L968.92,2294.69 L975.38,2289.67 L981.84,2284.64 L988.3,2283.02 L994.75,2285.48 L1001.21,2296.37 L1007.67,2288.83 L1014.13,2276.56 L1020.58,2295.53 L1027.04,2309.88 L1027.04,2315.2 L1020.58,2303.46 L1014.13,2287.38 L1007.67,2297.97 L1001.21,2304.14 L994.75,2295.23 L988.3,2293.11 L981.84,2294.54 L975.38,2298.66 L968.92,2302.77 L962.47,2300.71 L956.01,2297.28 L949.55,2302.77 L943.09,2297.28 L936.64,2302.08 L930.18,2302.08 L923.72,2302.77 L917.26,2304.14 L910.8,2297.97 L904.35,2297.28 L897.89,2304.14 L891.43,2310.4 L884.97,2301.4 L878.52,2300.03 L872.06,2296.6 L865.6,2301.4 L859.14,2302.77 L852.69,2302.77 L846.23,2300.03 L839.77,2301.4 L833.31,2304.91 L826.86,2301.4 L820.4,2300.03 L813.94,2301.4 L807.48,2306.97 L801.02,2298.66 L794.57,2298.66 L788.11,2295.91 L781.65,2303.46 L775.19,2310.4 L768.74,2300.03 L762.28,2302.77 L755.82,2301.4 L749.36,2297.97 L742.91,2298.66 L736.45,2304.14 L729.99,2297.97 L723.53,2298.66 L717.08,2303.46 L710.62,2296.6 L704.16,2295.91 L697.7,2300.03 L691.25,2302.77 L684.79,2300.71 L678.33,2302.77 L671.87,2304.14 L665.41,2304.91 L658.96,2306.28 L652.5,2306.28 L646.04,2311.08 L639.58,2306.97 L633.13,2315.88 L626.67,2314.51 L620.21,2313.83 L613.75,2315.2 L607.3,2315.88 L600.84,2313.83 L594.38,2311.77 L587.92,2307.66 L581.47,2310.4 L575.01,2314.51 L568.55,2317.26 L562.09,2315.37 L555.63,2317.77 L549.18,2318.16 L542.72,2317.34 L536.26,2316.66 L529.8,2315.37 L523.35,2317.34 L516.89,2317.77 L510.43,2317.77 L503.97,2317 L497.52,2317.77 L491.06,2318.16 L484.6,2318.16 L478.14,2318.16 L471.69,2318.16 L465.23,2318.16 L458.77,2318.16 L452.31,2318.16 L445.85,2317.77 L439.4,2313.74 L432.94,2313.74 L426.48,2317.77 L420.02,2315.37 L413.57,2313.74 L407.11,2315.37 L400.65,2316.14 L394.19,2317.77 L387.74,2318.16 L381.28,2318.16 L374.82,2318.16 L368.36,2315.37 L361.91,2312.88 L355.45,2312.88 L348.99,2313.74 L342.53,2317.77 L336.07,2317 L329.62,2317 L323.16,2317.77 L316.7,2318.16 L310.24,2318.16 L303.79,2318.16 L297.33,2317.77 L290.87,2317 L284.41,2316.14 L277.96,2314.51 L271.5,2316.66 L265.04,2316.66 L258.58,2315.37 L252.13,2313.74 L245.67,2312.11 L239.21,2312.88 L232.75,2311.26 L226.3,2312.11 L219.84,2312.88 L213.38,2312.88 L206.92,2311.26 L200.46,2314.51 L194.01,2315.37 L187.55,2317.77 L181.09,2317.34 L174.63,2317.77 L168.18,2318.16 L161.72,2318.16 L155.26,2317.77 L148.8,2318.16 L142.35,2318.16 L135.89,2318.16 L129.43,2318.16 L122.97,2311.26 L116.52,2313.74 L110.06,2317 L103.6,2312.11Z" fill="#8c8c8c" fill-opacity="0.55"/>
<path d="M103.6,2312.84 L110.06,2311.75 L116.52,2314.48 L122.97,2308.68 L129.43,2310.32 L135.89,2303.42 L142.35,2312.84 L148.8,2314.05 L155.26,2314.05 L161.72,2312.84 L168.18,2313.28 L174.63,2310.32 L181.09,2308.68 L187.55,2310.76 L194.01,2302.44 L200.46,2293.02 L206.92,2304.52 L213.38,2308.68 L219.84,2264.3 L226.3,2216.15 L232.75,2246.94 L239.21,2279.64 L245.67,2279.64 L252.13,2275.81 L258.58,2277.73 L265.04,2280.65 L271.5,2296.08 L277.96,2304.52 L284.41,2311.75 L290.87,2312.84 L297.33,2313.28 L303.79,2311.2 L310.24,2312.84 L316.7,2311.75 L323.16,2314.48 L329.62,2311.75 L336.07,2313.28 L342.53,2314.05 L348.99,2314.48 L355.45,2310.76 L361.91,2308.24 L368.36,2310.32 L374.82,2306.6 L381.28,2289.84 L387.74,2290.28 L394.19,2285.68 L400.65,2301.34 L407.11,2306.6 L413.57,2302.44 L420.02,2305.5 L426.48,2306.6 L432.94,2314.48 L439.4,2314.48 L445.85,2312.4 L452.31,2314.92 L458.77,2314.92 L465.23,2314.48 L471.69,2313.83 L478.14,2312.84 L484.6,2313.83 L491.06,2312.84 L497.52,2314.48 L503.97,2311.75 L510.43,2305.5 L516.89,2311.75 L523.35,2309.67 L529.8,2312.84 L536.26,2313.28 L542.72,2313.83 L549.18,2311.75 L555.63,2309.67 L562.09,2308.68 L568.55,2314.59 L575.01,2292.58 L581.47,2287.32 L587.92,2286.45 L594.38,2308.46 L600.84,2312.84 L607.3,2314.05 L613.75,2311.97 L620.21,2312.84 L626.67,2311.97 L633.13,2310.21 L639.58,2306.71 L646.04,2307.58 L652.5,2309.34 L658.96,2304.08 L665.41,2301.45 L671.87,2297.95 L678.33,2310.21 L684.79,2297.07 L691.25,2294.33 L697.7,2308.46 L704.16,2306.71 L710.62,2299.7 L717.08,2308.46 L723.53,2310.21 L729.99,2302.33 L736.45,2290.83 L742.91,2289.08 L749.36,2301.45 L755.82,2300.58 L762.28,2301.45 L768.74,2298.82 L775.19,2305.83 L781.65,2288.2 L788.11,2304.08 L794.57,2304.96 L801.02,2305.83 L807.48,2307.58 L813.94,2308.46 L820.4,2301.45 L826.86,2303.2 L833.31,2289.95 L839.77,2312.84 L846.23,2311.97 L852.69,2311.09 L859.14,2310.21 L865.6,2298.82 L872.06,2298.82 L878.52,2307.58 L884.97,2312.84 L891.43,2308.46 L897.89,2304.08 L904.35,2305.83 L910.8,2278.03 L917.26,2295.32 L923.72,2289.08 L930.18,2304.96 L936.64,2304.08 L943.09,2310.21 L949.55,2308.46 L956.01,2299.7 L962.47,2303.2 L968.92,2288.2 L975.38,2292.58 L981.84,2297.95 L988.3,2304.08 L994.75,2292.58 L1001.21,2298.82 L1007.67,2304.96 L1014.13,2300.58 L1020.58,2301.45 L1027.04,2305.83 L1027.04,2314.68 L1020.58,2311.44 L1014.13,2310.79 L1007.67,2314.03 L1001.21,2309.5 L994.75,2304.88 L988.3,2313.38 L981.84,2308.85 L975.38,2304.88 L968.92,2301.65 L962.47,2312.74 L956.01,2310.15 L949.55,2316.62 L943.09,2317.92 L936.64,2313.38 L930.18,2314.03 L923.72,2302.29 L917.26,2306.91 L910.8,2293.53 L904.35,2314.68 L897.89,2313.38 L891.43,2316.62 L884.97,2318.16 L878.52,2315.97 L872.06,2309.5 L865.6,2309.5 L859.14,2317.92 L852.69,2318.16 L846.23,2318.16 L839.77,2318.16 L833.31,2302.94 L826.86,2312.74 L820.4,2311.44 L813.94,2316.62 L807.48,2315.97 L801.02,2314.68 L794.57,2314.03 L788.11,2313.38 L781.65,2301.65 L775.19,2314.68 L768.74,2309.5 L762.28,2311.44 L755.82,2310.79 L749.36,2311.44 L742.91,2302.29 L736.45,2303.59 L729.99,2312.09 L723.53,2317.92 L717.08,2316.62 L710.62,2310.15 L704.16,2315.33 L697.7,2316.62 L691.25,2306.18 L684.79,2308.2 L678.33,2317.92 L671.87,2308.85 L665.41,2311.44 L658.96,2313.38 L652.5,2317.27 L646.04,2315.97 L639.58,2315.33 L633.13,2317.92 L626.67,2318.16 L620.21,2318.16 L613.75,2318.16 L607.3,2318.16 L600.84,2318.16 L594.38,2316.62 L587.92,2300.35 L581.47,2301 L575.01,2304.88 L568.55,2318.16 L562.09,2316.78 L555.63,2317.51 L549.18,2318.16 L542.72,2318.16 L536.26,2318.16 L529.8,2318.16 L523.35,2317.51 L516.89,2318.16 L510.43,2314.44 L503.97,2318.16 L497.52,2318.16 L491.06,2318.16 L484.6,2318.16 L478.14,2318.16 L471.69,2318.16 L465.23,2318.16 L458.77,2318.16 L452.31,2318.16 L445.85,2318.16 L439.4,2318.16 L432.94,2318.16 L426.48,2315.25 L420.02,2314.44 L413.57,2312.17 L407.11,2315.25 L400.65,2311.36 L394.19,2299.78 L387.74,2303.18 L381.28,2302.86 L374.82,2315.25 L368.36,2318 L361.91,2316.46 L355.45,2318.16 L348.99,2318.16 L342.53,2318.16 L336.07,2318.16 L329.62,2318.16 L323.16,2318.16 L316.7,2318.16 L310.24,2318.16 L303.79,2318.16 L297.33,2318.16 L290.87,2318.16 L284.41,2318.16 L277.96,2313.71 L271.5,2307.47 L265.04,2295.86 L258.58,2293.26 L252.13,2291.56 L245.67,2294.96 L239.21,2294.96 L232.75,2265.96 L226.3,2238.66 L219.84,2281.36 L213.38,2316.78 L206.92,2313.71 L200.46,2305.21 L194.01,2312.17 L187.55,2318.16 L181.09,2316.78 L174.63,2318 L168.18,2318.16 L161.72,2318.16 L155.26,2318.16 L148.8,2318.16 L142.35,2318.16 L135.89,2312.9 L129.43,2318 L122.97,2316.78 L116.52,2318.16 L110.06,2318.16 L103.6,2318.16Z" fill="#c0393d" fill-opacity="0.55"/>
<polyline points="103.6,2309.11 110.06,2314.54 116.52,2310.92 122.97,2308.16 129.43,2316.35 135.89,2317.4 142.35,2316.35 148.8,2316.73 155.26,2315.4 161.72,2315.97 168.18,2316.73 174.63,2315.4 181.09,2314.92 187.55,2315.4 194.01,2312.73 200.46,2311.78 206.92,2308.16 213.38,2309.97 219.84,2309.97 226.3,2309.11 232.75,2308.16 239.21,2309.97 245.67,2309.11 252.13,2310.92 258.58,2312.73 265.04,2314.16 271.5,2314.16 277.96,2311.78 284.41,2313.59 290.87,2314.54 297.33,2315.4 303.79,2316.35 310.24,2317.21 316.7,2316.35 323.16,2315.4 329.62,2314.54 336.07,2314.54 342.53,2315.4 348.99,2310.92 355.45,2309.97 361.91,2309.97 368.36,2312.73 374.82,2316.35 381.28,2316.73 387.74,2316.35 394.19,2315.4 400.65,2313.59 407.11,2312.73 413.57,2310.92 420.02,2312.73 426.48,2315.4 432.94,2310.92 439.4,2310.92 445.85,2315.4 452.31,2316.35 458.77,2315.97 465.23,2315.97 471.69,2316.35 478.14,2316.73 484.6,2316.73 491.06,2316.35 497.52,2315.4 503.97,2314.54 510.43,2315.4 516.89,2315.4 523.35,2314.92 529.8,2312.73 536.26,2314.16 542.72,2314.92 549.18,2315.97 555.63,2315.4 562.09,2312.73 568.55,2314.83 575.01,2311.78 581.47,2307.21 587.92,2304.16 594.38,2308.73 600.84,2311.02 607.3,2313.3 613.75,2312.54 620.21,2311.02 626.67,2311.78 633.13,2313.3 639.58,2303.4 646.04,2307.97 652.5,2302.64 658.96,2302.64 665.41,2301.11 671.87,2300.26 678.33,2298.73 684.79,2296.45 691.25,2298.73 697.7,2295.68 704.16,2291.11 710.62,2291.88 717.08,2299.49 723.53,2294.16 729.99,2293.4 736.45,2300.26 742.91,2294.16 749.36,2293.4 755.82,2297.21 762.28,2298.73 768.74,2295.68 775.19,2307.21 781.65,2299.49 788.11,2291.11 794.57,2294.16 801.02,2294.16 807.48,2303.4 813.94,2297.21 820.4,2295.68 826.86,2297.21 833.31,2301.11 839.77,2297.21 846.23,2295.68 852.69,2298.73 859.14,2298.73 865.6,2297.21 872.06,2291.88 878.52,2295.68 884.97,2297.21 891.43,2307.21 897.89,2300.26 904.35,2292.64 910.8,2293.4 917.26,2300.26 923.72,2298.73 930.18,2297.97 936.64,2297.97 943.09,2292.64 949.55,2298.73 956.01,2292.64 962.47,2296.45 968.92,2298.73 975.38,2294.16 981.84,2289.59 988.3,2288.07 994.75,2290.35 1001.21,2300.26 1007.67,2293.4 1014.13,2281.97 1020.58,2299.49 1027.04,2312.54" fill="none" stroke="#848484" stroke-width="1.35" stroke-linejoin="round"/>
<polyline points="103.6,2316.35 110.06,2315.4 116.52,2317.78 122.97,2312.73 129.43,2314.16 135.89,2308.16 142.35,2316.35 148.8,2317.4 155.26,2317.4 161.72,2316.35 168.18,2316.73 174.63,2314.16 181.09,2312.73 187.55,2314.54 194.01,2307.3 200.46,2299.11 206.92,2309.11 213.38,2312.73 219.84,2272.83 226.3,2227.4 232.75,2256.45 239.21,2287.3 245.67,2287.3 252.13,2283.69 258.58,2285.49 265.04,2288.26 271.5,2301.78 277.96,2309.11 284.41,2315.4 290.87,2316.35 297.33,2316.73 303.79,2314.92 310.24,2316.35 316.7,2315.4 323.16,2317.78 329.62,2315.4 336.07,2316.73 342.53,2317.4 348.99,2317.78 355.45,2314.54 361.91,2312.35 368.36,2314.16 374.82,2310.92 381.28,2296.35 387.74,2296.73 394.19,2292.73 400.65,2306.35 407.11,2310.92 413.57,2307.3 420.02,2309.97 426.48,2310.92 432.94,2317.78 439.4,2317.78 445.85,2315.97 452.31,2318.16 458.77,2318.16 465.23,2317.78 471.69,2317.21 478.14,2316.35 484.6,2317.21 491.06,2316.35 497.52,2317.78 503.97,2315.4 510.43,2309.97 516.89,2315.4 523.35,2313.59 529.8,2316.35 536.26,2316.73 542.72,2317.21 549.18,2315.4 555.63,2313.59 562.09,2312.73 568.55,2317.87 575.01,2298.73 581.47,2294.16 587.92,2293.4 594.38,2312.54 600.84,2316.35 607.3,2317.4 613.75,2315.59 620.21,2316.35 626.67,2315.59 633.13,2314.06 639.58,2311.02 646.04,2311.78 652.5,2313.3 658.96,2308.73 665.41,2306.45 671.87,2303.4 678.33,2314.06 684.79,2302.64 691.25,2300.26 697.7,2312.54 704.16,2311.02 710.62,2304.92 717.08,2312.54 723.53,2314.06 729.99,2307.21 736.45,2297.21 742.91,2295.68 749.36,2306.45 755.82,2305.68 762.28,2306.45 768.74,2304.16 775.19,2310.26 781.65,2294.92 788.11,2308.73 794.57,2309.49 801.02,2310.26 807.48,2311.78 813.94,2312.54 820.4,2306.45 826.86,2307.97 833.31,2296.45 839.77,2316.35 846.23,2315.59 852.69,2314.83 859.14,2314.06 865.6,2304.16 872.06,2304.16 878.52,2311.78 884.97,2316.35 891.43,2312.54 897.89,2308.73 904.35,2310.26 910.8,2285.78 917.26,2301.11 923.72,2295.68 930.18,2309.49 936.64,2308.73 943.09,2314.06 949.55,2312.54 956.01,2304.92 962.47,2307.97 968.92,2294.92 975.38,2298.73 981.84,2303.4 988.3,2308.73 994.75,2298.73 1001.21,2304.16 1007.67,2309.49 1014.13,2305.68 1020.58,2306.45 1027.04,2310.26" fill="none" stroke="#c0393d" stroke-width="1.35" stroke-linejoin="round"/>
</g>
<rect x="103.6" y="2175.31" width="929.9" height="142.85" fill="none" stroke="#858585" stroke-width="1.5"/>
<line x1="100.8" y1="2318.16" x2="103.6" y2="2318.16" stroke="#858585" stroke-width="1.2"/>
<text x="99.4" y="2323.26" class="t14" text-anchor="end">0</text>
<line x1="100.8" y1="2270.54" x2="103.6" y2="2270.54" stroke="#858585" stroke-width="1.2"/>
<text x="99.4" y="2275.64" class="t14" text-anchor="end">50</text>
<line x1="100.8" y1="2222.93" x2="103.6" y2="2222.93" stroke="#858585" stroke-width="1.2"/>
<text x="99.4" y="2228.03" class="t14" text-anchor="end">100</text>
<line x1="100.8" y1="2175.31" x2="103.6" y2="2175.31" stroke="#858585" stroke-width="1.2"/>
<text x="99.4" y="2180.41" class="t14" text-anchor="end">150</text>
<line x1="103.6" y1="2318.16" x2="103.6" y2="2320.96" stroke="#858585" stroke-width="1.2"/>
<line x1="219.84" y1="2318.16" x2="219.84" y2="2320.96" stroke="#858585" stroke-width="1.2"/>
<line x1="336.07" y1="2318.16" x2="336.07" y2="2320.96" stroke="#858585" stroke-width="1.2"/>
<line x1="452.31" y1="2318.16" x2="452.31" y2="2320.96" stroke="#858585" stroke-width="1.2"/>
<line x1="568.55" y1="2318.16" x2="568.55" y2="2320.96" stroke="#858585" stroke-width="1.2"/>
<line x1="684.79" y1="2318.16" x2="684.79" y2="2320.96" stroke="#858585" stroke-width="1.2"/>
<line x1="801.02" y1="2318.16" x2="801.02" y2="2320.96" stroke="#858585" stroke-width="1.2"/>
<line x1="917.26" y1="2318.16" x2="917.26" y2="2320.96" stroke="#858585" stroke-width="1.2"/>
<line x1="1033.5" y1="2318.16" x2="1033.5" y2="2320.96" stroke="#858585" stroke-width="1.2"/>
<text transform="translate(51.6,2246.74) rotate(-90)" class="t14" text-anchor="middle">GSK: 150mg/kg</text>
<text transform="translate(66.4,2246.74) rotate(-90)" class="t14" text-anchor="middle">Distance (cm / min)</text>
<text transform="translate(108.8,2323.66) rotate(-90)" class="t14" text-anchor="end">7am</text>
<text transform="translate(225.04,2323.66) rotate(-90)" class="t14" text-anchor="end">10am</text>
<text transform="translate(341.27,2323.66) rotate(-90)" class="t14" text-anchor="end">1pm</text>
<text transform="translate(457.51,2323.66) rotate(-90)" class="t14" text-anchor="end">4pm</text>
<text transform="translate(573.75,2323.66) rotate(-90)" class="t14" text-anchor="end">7pm</text>
<text transform="translate(689.99,2323.66) rotate(-90)" class="t14" text-anchor="end">10pm</text>
<text transform="translate(806.23,2323.66) rotate(-90)" class="t14" text-anchor="end">1am</text>
<text transform="translate(922.46,2323.66) rotate(-90)" class="t14" text-anchor="end">4am</text>
<text transform="translate(1038.7,2323.66) rotate(-90)" class="t14" text-anchor="end">7am</text>
<text x="568.5" y="1698.4" class="t17" text-anchor="middle">Dosing day (10 minute bins)</text>
<rect x="783.1" y="1709.9" width="242.4" height="44.1" rx="2.5" fill="#fff" fill-opacity="0.8"/>
<line x1="787.6" y1="1721.2" x2="816.5" y2="1721.2" stroke="#8a8a8a" stroke-width="1.5"/>
<line x1="787.6" y1="1741.4" x2="816.5" y2="1741.4" stroke="#4a78b4" stroke-width="1.5"/>
<text x="826.2" y="1726.4" class="t14l">Baseline (n=6) ±1 × S.E.M</text>
<text x="826.2" y="1746.4" class="t14l">Post Dose (n=6) ±1 × S.E.M</text>
<line x1="1286.5" y1="1739.2" x2="1286.5" y2="2196.2" stroke="#c8c8c8" stroke-width="1.1"/>
<line x1="1218.5" y1="1881.25" x2="1218.5" y2="1839.07" stroke="#262626" stroke-width="1.4"/>
<line x1="1218.5" y1="1985.93" x2="1218.5" y2="2030.17" stroke="#262626" stroke-width="1.4"/>
<line x1="1201.45" y1="1839.07" x2="1235.55" y2="1839.07" stroke="#262626" stroke-width="1.4"/>
<line x1="1201.45" y1="2030.17" x2="1235.55" y2="2030.17" stroke="#262626" stroke-width="1.4"/>
<rect x="1184.4" y="1881.25" width="68.2" height="104.68" fill="#4a76b2" stroke="#1f1f1f" stroke-width="1.4"/>
<line x1="1184.4" y1="1927.8" x2="1252.6" y2="1927.8" stroke="#1f1f1f" stroke-width="1.4"/>
<circle cx="1218.5" cy="1839.07" r="3.4" fill="#000" fill-opacity="0.4"/>
<circle cx="1218.5" cy="1869.67" r="3.4" fill="#000" fill-opacity="0.4"/>
<circle cx="1218.5" cy="1916.23" r="3.4" fill="#000" fill-opacity="0.4"/>
<circle cx="1218.5" cy="1938.86" r="3.4" fill="#000" fill-opacity="0.4"/>
<circle cx="1218.5" cy="2001.36" r="3.4" fill="#000" fill-opacity="0.4"/>
<circle cx="1218.5" cy="2030.17" r="3.4" fill="#000" fill-opacity="0.4"/>
<line x1="1354.65" y1="1902.34" x2="1354.65" y2="1778.88" stroke="#262626" stroke-width="1.4"/>
<line x1="1354.65" y1="2050.23" x2="1354.65" y2="2100.9" stroke="#262626" stroke-width="1.4"/>
<line x1="1337.6" y1="1778.88" x2="1371.7" y2="1778.88" stroke="#262626" stroke-width="1.4"/>
<line x1="1337.6" y1="2100.9" x2="1371.7" y2="2100.9" stroke="#262626" stroke-width="1.4"/>
<rect x="1320.55" y="1902.34" width="68.2" height="147.89" fill="#e68024" stroke="#1f1f1f" stroke-width="1.4"/>
<line x1="1320.55" y1="1960.21" x2="1388.75" y2="1960.21" stroke="#1f1f1f" stroke-width="1.4"/>
<circle cx="1354.65" cy="1778.88" r="3.4" fill="#000" fill-opacity="0.4"/>
<circle cx="1354.65" cy="1898.99" r="3.4" fill="#000" fill-opacity="0.4"/>
<circle cx="1354.65" cy="1914.43" r="3.4" fill="#000" fill-opacity="0.4"/>
<circle cx="1354.65" cy="2006.25" r="3.4" fill="#000" fill-opacity="0.4"/>
<circle cx="1354.65" cy="2064.63" r="3.4" fill="#000" fill-opacity="0.4"/>
<circle cx="1354.65" cy="2100.9" r="3.4" fill="#000" fill-opacity="0.4"/>
<line x1="1490.75" y1="1971.27" x2="1490.75" y2="1898.22" stroke="#262626" stroke-width="1.4"/>
<line x1="1490.75" y1="2085.98" x2="1490.75" y2="2106.55" stroke="#262626" stroke-width="1.4"/>
<line x1="1473.7" y1="1898.22" x2="1507.8" y2="1898.22" stroke="#262626" stroke-width="1.4"/>
<line x1="1473.7" y1="2106.55" x2="1507.8" y2="2106.55" stroke="#262626" stroke-width="1.4"/>
<rect x="1456.65" y="1971.27" width="68.2" height="114.71" fill="#62a03c" stroke="#1f1f1f" stroke-width="1.4"/>
<line x1="1456.65" y1="2034.28" x2="1524.85" y2="2034.28" stroke="#1f1f1f" stroke-width="1.4"/>
<circle cx="1490.75" cy="1898.22" r="3.4" fill="#000" fill-opacity="0.4"/>
<circle cx="1490.75" cy="1953.26" r="3.4" fill="#000" fill-opacity="0.4"/>
<circle cx="1490.75" cy="2025.79" r="3.4" fill="#000" fill-opacity="0.4"/>
<circle cx="1490.75" cy="2043.54" r="3.4" fill="#000" fill-opacity="0.4"/>
<circle cx="1490.75" cy="2100.64" r="3.4" fill="#000" fill-opacity="0.4"/>
<circle cx="1490.75" cy="2106.81" r="3.4" fill="#000" fill-opacity="0.4"/>
<line x1="1626.85" y1="2072.09" x2="1626.85" y2="2062.32" stroke="#262626" stroke-width="1.4"/>
<line x1="1626.85" y1="2116.84" x2="1626.85" y2="2156.71" stroke="#262626" stroke-width="1.4"/>
<line x1="1609.8" y1="2062.32" x2="1643.9" y2="2062.32" stroke="#262626" stroke-width="1.4"/>
<line x1="1609.8" y1="2156.71" x2="1643.9" y2="2156.71" stroke="#262626" stroke-width="1.4"/>
<rect x="1592.75" y="2072.09" width="68.2" height="44.75" fill="#b8292d" stroke="#1f1f1f" stroke-width="1.4"/>
<line x1="1592.75" y1="2094.72" x2="1660.95" y2="2094.72" stroke="#1f1f1f" stroke-width="1.4"/>
<circle cx="1626.85" cy="2062.32" r="3.4" fill="#000" fill-opacity="0.4"/>
<circle cx="1626.85" cy="2064.63" r="3.4" fill="#000" fill-opacity="0.4"/>
<circle cx="1626.85" cy="2094.72" r="3.4" fill="#000" fill-opacity="0.4"/>
<circle cx="1626.85" cy="2094.72" r="3.4" fill="#000" fill-opacity="0.4"/>
<circle cx="1626.85" cy="2124.82" r="3.4" fill="#000" fill-opacity="0.4"/>
<circle cx="1626.85" cy="2156.71" r="3.4" fill="#000" fill-opacity="0.4"/>
<rect x="1150.6" y="1739.2" width="543.8" height="457" fill="none" stroke="#3c3c3c" stroke-width="1.3"/>
<line x1="1145.9" y1="2185" x2="1150.6" y2="2185" stroke="#3c3c3c" stroke-width="1.2"/>
<text x="1143.4" y="2192.4" class="t20" text-anchor="end" style="font-size:20.2px">0</text>
<line x1="1145.9" y1="2133.56" x2="1150.6" y2="2133.56" stroke="#3c3c3c" stroke-width="1.2"/>
<text x="1143.4" y="2140.96" class="t20" text-anchor="end" style="font-size:20.2px">2</text>
<line x1="1145.9" y1="2082.12" x2="1150.6" y2="2082.12" stroke="#3c3c3c" stroke-width="1.2"/>
<text x="1143.4" y="2089.52" class="t20" text-anchor="end" style="font-size:20.2px">4</text>
<line x1="1145.9" y1="2030.68" x2="1150.6" y2="2030.68" stroke="#3c3c3c" stroke-width="1.2"/>
<text x="1143.4" y="2038.08" class="t20" text-anchor="end" style="font-size:20.2px">6</text>
<line x1="1145.9" y1="1979.24" x2="1150.6" y2="1979.24" stroke="#3c3c3c" stroke-width="1.2"/>
<text x="1143.4" y="1986.64" class="t20" text-anchor="end" style="font-size:20.2px">8</text>
<line x1="1145.9" y1="1927.8" x2="1150.6" y2="1927.8" stroke="#3c3c3c" stroke-width="1.2"/>
<text x="1143.4" y="1935.2" class="t20" text-anchor="end" style="font-size:20.2px">10</text>
<line x1="1145.9" y1="1876.36" x2="1150.6" y2="1876.36" stroke="#3c3c3c" stroke-width="1.2"/>
<text x="1143.4" y="1883.76" class="t20" text-anchor="end" style="font-size:20.2px">12</text>
<line x1="1145.9" y1="1824.92" x2="1150.6" y2="1824.92" stroke="#3c3c3c" stroke-width="1.2"/>
<text x="1143.4" y="1832.32" class="t20" text-anchor="end" style="font-size:20.2px">14</text>
<line x1="1145.9" y1="1773.48" x2="1150.6" y2="1773.48" stroke="#3c3c3c" stroke-width="1.2"/>
<text x="1143.4" y="1780.88" class="t20" text-anchor="end" style="font-size:20.2px">16</text>
<line x1="1218.5" y1="2196.2" x2="1218.5" y2="2200.9" stroke="#3c3c3c" stroke-width="1.2"/>
<text transform="translate(1225.7,2201.8) rotate(-90)" class="t20" text-anchor="end" style="font-size:20.4px">Vehicle</text>
<line x1="1354.65" y1="2196.2" x2="1354.65" y2="2200.9" stroke="#3c3c3c" stroke-width="1.2"/>
<text transform="translate(1361.85,2201.8) rotate(-90)" class="t20" text-anchor="end" style="font-size:20.4px">GSK: 10mg/kg</text>
<line x1="1490.75" y1="2196.2" x2="1490.75" y2="2200.9" stroke="#3c3c3c" stroke-width="1.2"/>
<text transform="translate(1497.95,2201.8) rotate(-90)" class="t20" text-anchor="end" style="font-size:20.4px">GSK: 50mg/kg</text>
<line x1="1626.85" y1="2196.2" x2="1626.85" y2="2200.9" stroke="#3c3c3c" stroke-width="1.2"/>
<text transform="translate(1634.05,2201.8) rotate(-90)" class="t20" text-anchor="end" style="font-size:20.4px">GSK: 150mg/kg</text>
<text transform="translate(1109.5,1967.7) rotate(-90)" class="t20" text-anchor="middle">Δ Distance (cm / min)</text>
<text x="1418.9" y="1706.6" class="t24" text-anchor="middle">Change in Distance vs Baseline</text>
<text x="1422.8" y="1733.8" class="t24" text-anchor="middle" xml:space="preserve">Dosing day:  1pm-4pm</text>
<text x="35" y="1660" class="cal" font-weight="bold" font-size="71px">D</text>
<text x="1071.7" y="1660" class="cal" font-weight="bold" font-size="71px">E</text>
</svg></body></html>
